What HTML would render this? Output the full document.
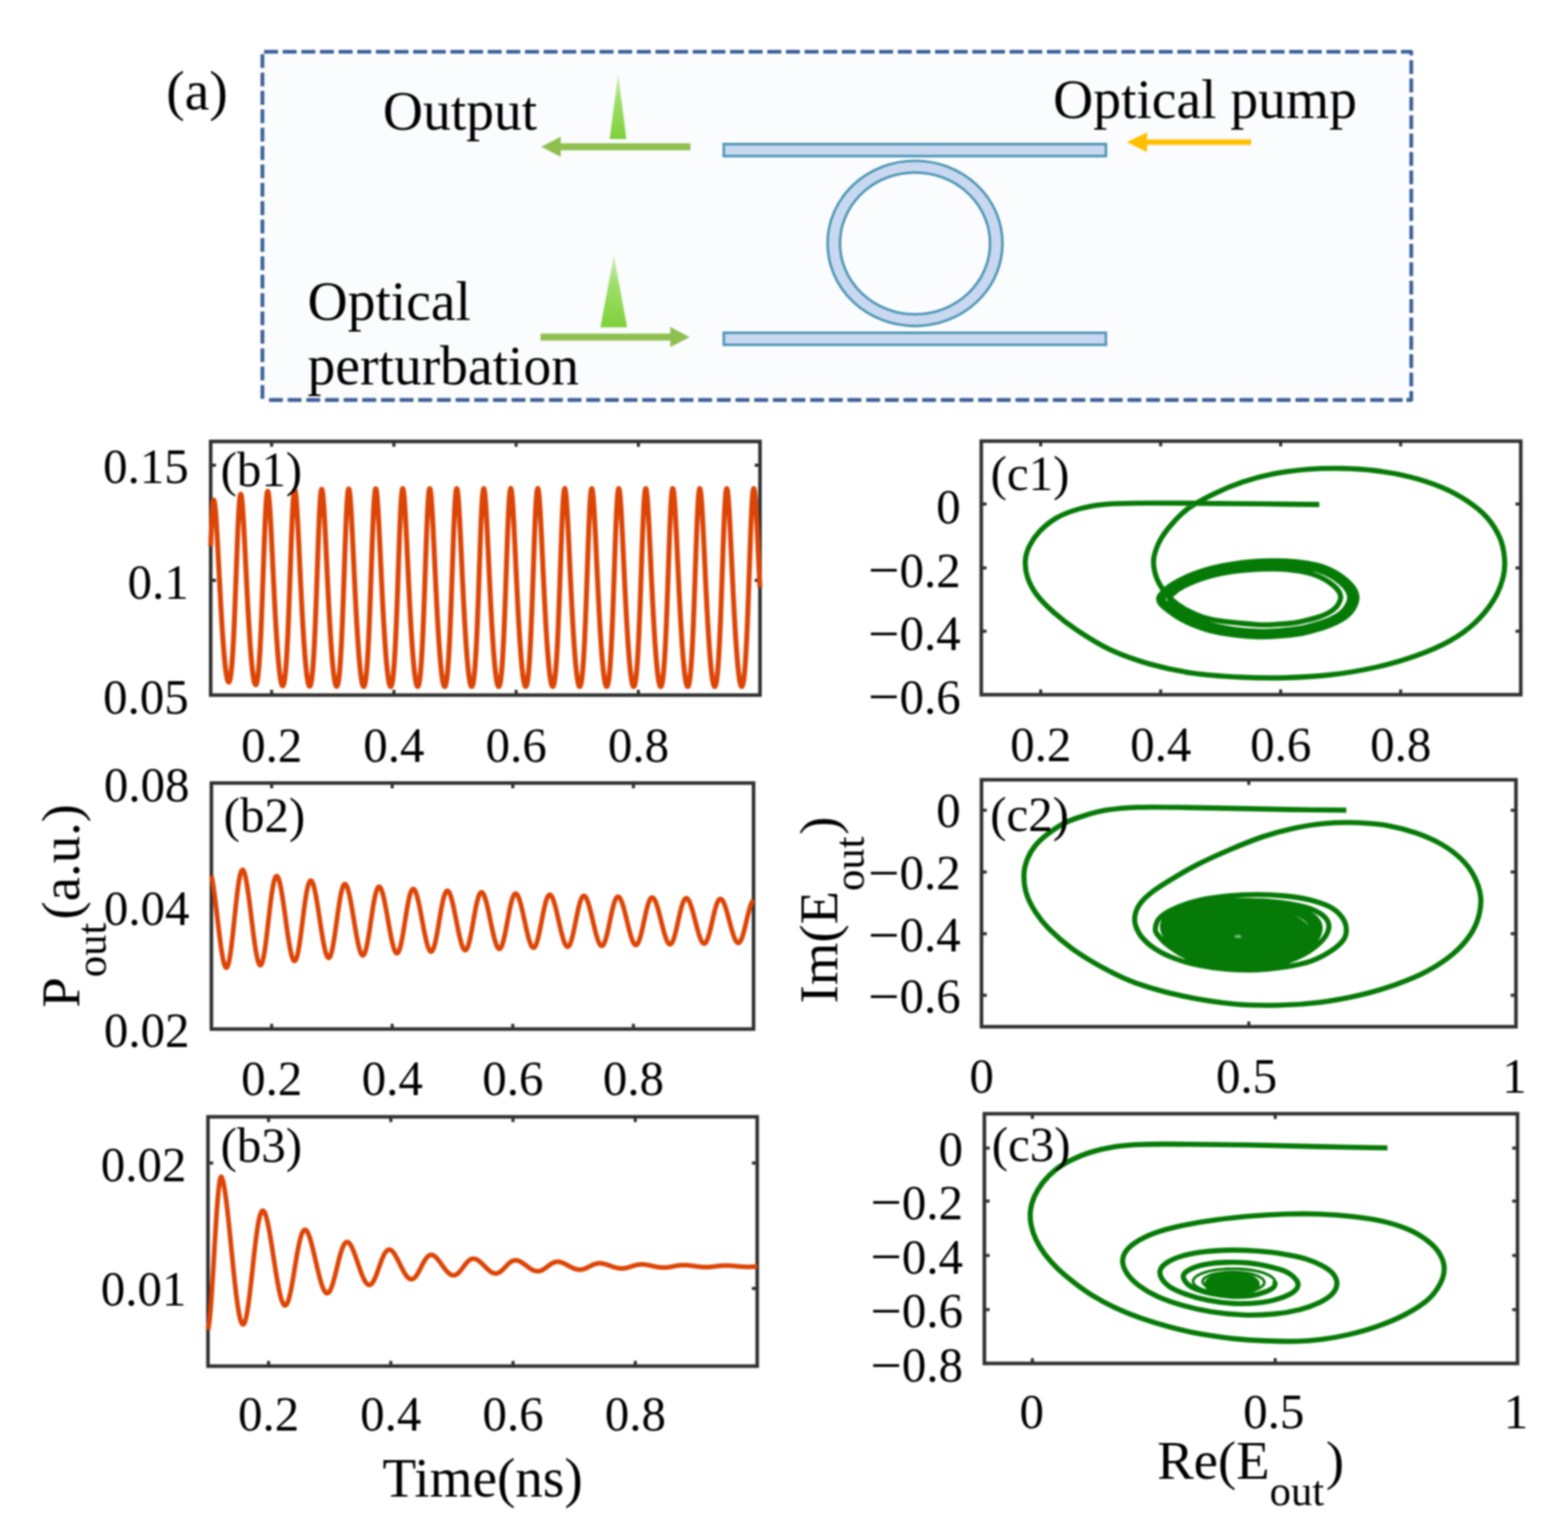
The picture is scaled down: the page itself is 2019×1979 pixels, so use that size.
<!DOCTYPE html>
<html lang="en"><head><meta charset="utf-8"><title>Figure</title>
<style>
html,body{margin:0;padding:0;background:#fff;}
body{width:2019px;height:1979px;overflow:hidden;}
svg{display:block;position:absolute;left:0;top:0;filter:blur(1px);}
text{font-family:"Liberation Serif", "DejaVu Serif", serif;fill:#000;}
</style></head><body>
<svg xmlns="http://www.w3.org/2000/svg" width="2019" height="1979" viewBox="0 0 2019 1979">
<defs><linearGradient id="gp" x1="0" y1="0" x2="0" y2="1"><stop offset="0" stop-color="#d2efbb"/><stop offset="0.4" stop-color="#a0de6a"/><stop offset="1" stop-color="#7fd13b"/></linearGradient></defs>
<rect x="337.9" y="66.7" width="1479.3" height="448.3" fill="#fbfcfe"/>
<path d="M340.0 66.7H358.0M364.0 66.7H382.0M388.0 66.7H406.0M412.0 66.7H430.0M436.0 66.7H454.0M460.0 66.7H478.0M484.0 66.7H502.0M508.0 66.7H526.0M532.0 66.7H550.0M556.0 66.7H574.0M580.0 66.7H598.0M604.0 66.7H622.0M628.0 66.7H646.0M652.0 66.7H670.0M676.0 66.7H694.0M700.0 66.7H718.0M724.0 66.7H742.0M748.0 66.7H766.0M772.0 66.7H790.0M796.0 66.7H814.0M820.0 66.7H838.0M844.0 66.7H862.0M868.0 66.7H886.0M892.0 66.7H910.0M916.0 66.7H934.0M940.0 66.7H958.0M964.0 66.7H982.0M988.0 66.7H1006.0M1012.0 66.7H1030.0M1036.0 66.7H1054.0M1060.0 66.7H1078.0M1084.0 66.7H1102.0M1108.0 66.7H1126.0M1132.0 66.7H1150.0M1156.0 66.7H1174.0M1180.0 66.7H1198.0M1204.0 66.7H1222.0M1228.0 66.7H1246.0M1252.0 66.7H1270.0M1276.0 66.7H1294.0M1300.0 66.7H1318.0M1324.0 66.7H1342.0M1348.0 66.7H1366.0M1372.0 66.7H1390.0M1396.0 66.7H1414.0M1420.0 66.7H1438.0M1444.0 66.7H1462.0M1468.0 66.7H1486.0M1492.0 66.7H1510.0M1516.0 66.7H1534.0M1540.0 66.7H1558.0M1564.0 66.7H1582.0M1588.0 66.7H1606.0M1612.0 66.7H1630.0M1636.0 66.7H1654.0M1660.0 66.7H1678.0M1684.0 66.7H1702.0M1708.0 66.7H1726.0M1732.0 66.7H1750.0M1756.0 66.7H1774.0M1780.0 66.7H1798.0M1804.0 66.7H1817.2V71.3M1817.2 77.4V95.2M1817.2 101.1V118.9M1817.2 124.7V142.5M1817.2 148.4V166.2M1817.2 172.1V189.9M1817.2 195.8V213.6M1817.2 219.4V237.2M1817.2 243.1V260.9M1817.2 266.8V284.6M1817.2 290.4V308.2M1817.2 314.1V331.9M1817.2 337.8V355.6M1817.2 361.4V379.2M1817.2 385.1V402.9M1817.2 408.8V426.6M1817.2 432.5V450.2M1817.2 456.1V473.9M1817.2 479.8V497.6M1817.2 503.5V515.0H1811.0M346.4 515.0H364.2M370.4 515.0H388.2M394.5 515.0H412.3M418.5 515.0H436.3M442.5 515.0H460.3M466.5 515.0H484.4M490.6 515.0H508.4M514.6 515.0H532.4M538.6 515.0H556.4M562.7 515.0H580.5M586.7 515.0H604.5M610.7 515.0H628.5M634.8 515.0H652.6M658.8 515.0H676.6M682.8 515.0H700.6M706.9 515.0H724.7M730.9 515.0H748.7M754.9 515.0H772.7M778.9 515.0H796.7M803.0 515.0H820.8M827.0 515.0H844.8M851.0 515.0H868.8M875.1 515.0H892.9M899.1 515.0H916.9M923.1 515.0H940.9M947.1 515.0H965.0M971.2 515.0H989.0M995.2 515.0H1013.0M1019.2 515.0H1037.0M1043.3 515.0H1061.1M1067.3 515.0H1085.1M1091.3 515.0H1109.1M1115.4 515.0H1133.2M1139.4 515.0H1157.2M1163.4 515.0H1181.2M1187.5 515.0H1205.2M1211.5 515.0H1229.3M1235.5 515.0H1253.3M1259.5 515.0H1277.3M1283.6 515.0H1301.4M1307.6 515.0H1325.4M1331.6 515.0H1349.4M1355.7 515.0H1373.5M1379.7 515.0H1397.5M1403.7 515.0H1421.5M1427.8 515.0H1445.6M1451.8 515.0H1469.6M1475.8 515.0H1493.6M1499.8 515.0H1517.6M1523.9 515.0H1541.7M1547.9 515.0H1565.7M1571.9 515.0H1589.7M1596.0 515.0H1613.8M1620.0 515.0H1637.8M1644.0 515.0H1661.8M1668.1 515.0H1685.9M1692.1 515.0H1709.9M1716.1 515.0H1733.9M1740.1 515.0H1757.9M1764.2 515.0H1782.0M1788.2 515.0H1806.0M337.9 69.8V87.6M337.9 93.5V111.3M337.9 117.1V134.9M337.9 140.8V158.6M337.9 164.4V182.2M337.9 188.1V205.9M337.9 211.8V229.6M337.9 235.4V253.2M337.9 259.1V276.9M337.9 282.7V300.5M337.9 306.4V324.2M337.9 330.1V347.9M337.9 353.7V371.5M337.9 377.4V395.2M337.9 401.0V418.8M337.9 424.7V442.5M337.9 448.4V466.2M337.9 472.0V489.8M337.9 495.7V513.5" fill="none" stroke="#3b5f96" stroke-width="4.8" stroke-linejoin="round"/>
<text x="214.0" y="140.5" font-size="71.5" text-anchor="start">(a)</text>
<text x="493.0" y="166.5" font-size="71.5" text-anchor="start">Output</text>
<text x="396.0" y="411.5" font-size="71.5" text-anchor="start">Optical</text>
<text x="396.0" y="494.5" font-size="71.5" text-anchor="start">perturbation</text>
<text x="1356.0" y="151.5" font-size="71.5" text-anchor="start">Optical pump</text>
<path d="M796 95 L806.5 179 L785 179 Z" fill="url(#gp)"/>
<path d="M790.5 329 L807.5 421.5 L773 421.5 Z" fill="url(#gp)"/>
<path d="M889 184.5 H722 V176 L697 189 L722 202 V193.5 H889 Z" fill="#8fbf4f"/>
<path d="M696 429.5 H863 V421 L888 434 L863 447 V438.5 H696 Z" fill="#8fbf4f"/>
<path d="M1611 179.5 H1477 V170.5 L1451 183 L1477 196 V186.5 H1611 Z" fill="#ffbf00"/>
<rect x="932" y="185.5" width="492" height="15.5" fill="#c8d8f0" stroke="#4a94b3" stroke-width="3.2"/>
<rect x="932" y="428.5" width="492" height="15.5" fill="#c8d8f0" stroke="#4a94b3" stroke-width="3.2"/>
<ellipse cx="1178.2" cy="313.4" rx="112.6" ry="106.4" fill="#c8d8f0" stroke="#4a94b3" stroke-width="3.2"/>
<ellipse cx="1178.2" cy="313.4" rx="96.6" ry="91.2" fill="#fbfcfe" stroke="#4a94b3" stroke-width="3.2"/>
<rect x="271.3" y="568.4" width="707.3" height="326.6" fill="#fff" stroke="#303030" stroke-width="4.6"/>
<path d="M349.8 895.0 v-6.8 M349.8 568.4 v6.8M507.2 895.0 v-6.8 M507.2 568.4 v6.8M664.6 895.0 v-6.8 M664.6 568.4 v6.8M822.0 895.0 v-6.8 M822.0 568.4 v6.8M271.3 599.0 h6.8 M978.6 599.0 h-6.8M271.3 747.3 h6.8 M978.6 747.3 h-6.8" stroke="#303030" stroke-width="4" fill="none"/>
<path d="M271.3 703.3L271.7 691.8L272.1 681.6L272.5 672.7L272.9 664.9L273.3 658.4L273.7 653.1L274.1 649.0L274.5 646.1L274.9 644.4L275.3 644.0L275.7 644.6L276.1 646.2L276.5 648.7L276.9 652.0L277.3 656.1L277.7 660.8L278.1 666.2L278.5 672.1L278.9 678.5L279.3 685.2L279.7 692.2L280.1 699.5L280.5 707.0L280.9 714.6L281.3 722.2L281.7 729.9L282.1 737.5L282.5 745.1L282.9 752.6L283.3 760.2L283.7 767.7L284.1 775.1L284.5 782.3L284.9 789.4L285.3 796.2L285.7 802.7L286.1 809.1L286.5 815.2L286.9 821.0L287.3 826.6L287.7 832.0L288.1 837.0L288.5 841.8L288.9 846.4L289.3 850.6L289.7 854.5L290.1 858.2L290.5 861.6L290.9 864.7L291.3 867.5L291.7 869.9L292.1 872.1L292.5 874.0L292.9 875.5L293.3 876.7L293.7 877.6L294.1 878.1L294.5 878.3L294.9 878.1L295.3 877.5L295.7 876.5L296.1 875.1L296.5 873.3L296.9 871.0L297.3 868.2L297.7 864.9L298.1 861.2L298.5 856.9L298.9 852.0L299.3 846.5L299.7 840.5L300.1 833.9L300.5 826.6L300.9 818.8L301.3 810.4L301.7 801.4L302.1 791.8L302.5 781.8L302.9 771.4L303.3 760.6L303.7 749.8L304.1 738.9L304.5 728.0L304.9 717.2L305.3 706.6L305.7 696.3L306.1 686.5L306.5 677.3L306.9 668.8L307.3 661.1L307.7 654.4L308.1 648.7L308.5 644.0L308.9 640.4L309.3 637.9L309.7 636.6L310.1 636.3L310.5 637.1L310.9 638.9L311.3 641.7L311.7 645.4L312.1 649.9L312.5 655.0L312.9 660.9L313.3 667.2L313.7 674.1L314.1 681.3L314.5 688.8L314.9 696.6L315.3 704.6L315.7 712.6L316.1 720.8L316.5 728.9L316.9 737.0L317.3 745.0L317.7 753.0L318.1 760.9L318.5 768.7L318.9 776.4L319.3 783.9L319.7 791.1L320.1 798.1L320.5 804.9L320.9 811.4L321.3 817.7L321.7 823.7L322.1 829.5L322.5 834.9L322.9 840.1L323.3 845.0L323.7 849.6L324.1 854.0L324.5 858.0L324.9 861.7L325.3 865.1L325.7 868.3L326.1 871.1L326.5 873.6L326.9 875.7L327.3 877.6L327.7 879.1L328.1 880.3L328.5 881.1L328.9 881.6L329.3 881.7L329.7 881.4L330.1 880.7L330.5 879.7L330.9 878.2L331.3 876.2L331.7 873.8L332.1 870.9L332.5 867.5L332.9 863.5L333.3 859.0L333.7 854.0L334.1 848.3L334.5 842.1L334.9 835.2L335.3 827.7L335.7 819.6L336.1 811.0L336.5 801.7L336.9 791.9L337.3 781.6L337.7 770.9L338.1 759.9L338.5 748.7L338.9 737.4L339.3 726.2L339.7 715.0L340.1 704.1L340.5 693.5L340.9 683.4L341.3 674.0L341.7 665.3L342.1 657.4L342.5 650.6L342.9 644.8L343.3 640.0L343.7 636.4L344.1 634.0L344.5 632.7L344.9 632.6L345.3 633.6L345.7 635.5L346.1 638.5L346.5 642.4L346.9 647.1L347.3 652.5L347.7 658.6L348.1 665.2L348.5 672.3L348.9 679.7L349.3 687.5L349.7 695.6L350.1 703.8L350.5 712.1L350.9 720.4L351.3 728.8L351.7 737.1L352.1 745.4L352.5 753.5L352.9 761.6L353.3 769.5L353.7 777.3L354.1 784.8L354.5 792.1L354.9 799.2L355.3 806.1L355.7 812.7L356.1 819.0L356.5 825.1L356.9 830.9L357.3 836.4L357.7 841.6L358.1 846.5L358.5 851.2L358.9 855.5L359.3 859.5L359.7 863.3L360.1 866.7L360.5 869.8L360.9 872.6L361.3 875.1L361.7 877.3L362.1 879.1L362.5 880.6L362.9 881.8L363.3 882.6L363.7 883.0L364.1 883.1L364.5 882.7L364.9 882.0L365.3 880.9L365.7 879.3L366.1 877.3L366.5 874.8L366.9 871.8L367.3 868.3L367.7 864.3L368.1 859.7L368.5 854.5L368.9 848.8L369.3 842.4L369.7 835.4L370.1 827.8L370.5 819.6L370.9 810.8L371.3 801.4L371.7 791.4L372.1 781.0L372.5 770.2L372.9 759.0L373.3 747.7L373.7 736.3L374.1 724.8L374.5 713.5L374.9 702.4L375.3 691.7L375.7 681.5L376.1 672.0L376.5 663.2L376.9 655.3L377.3 648.5L377.7 642.7L378.1 638.0L378.5 634.4L378.9 632.1L379.3 630.9L379.7 630.8L380.1 631.9L380.5 634.0L380.9 637.1L381.3 641.1L381.7 645.9L382.1 651.5L382.5 657.7L382.9 664.5L383.3 671.7L383.7 679.3L384.1 687.2L384.5 695.4L384.9 703.7L385.3 712.1L385.7 720.6L386.1 729.1L386.5 737.5L386.9 745.8L387.3 754.1L387.7 762.2L388.1 770.2L388.5 778.0L388.9 785.5L389.3 792.9L389.7 800.0L390.1 806.9L390.5 813.5L390.9 819.8L391.3 825.9L391.7 831.7L392.1 837.2L392.5 842.4L392.9 847.3L393.3 852.0L393.7 856.3L394.1 860.3L394.5 864.1L394.9 867.5L395.3 870.6L395.7 873.4L396.1 875.9L396.5 878.0L396.9 879.8L397.3 881.3L397.7 882.4L398.1 883.2L398.5 883.6L398.9 883.6L399.3 883.2L399.7 882.5L400.1 881.3L400.5 879.7L400.9 877.6L401.3 875.1L401.7 872.0L402.1 868.5L402.5 864.4L402.9 859.7L403.3 854.5L403.7 848.6L404.1 842.2L404.5 835.1L404.9 827.5L405.3 819.2L405.7 810.3L406.1 800.8L406.5 790.8L406.9 780.3L407.3 769.4L407.7 758.2L408.1 746.8L408.5 735.2L408.9 723.7L409.3 712.3L409.7 701.1L410.1 690.4L410.5 680.2L410.9 670.6L411.3 661.9L411.7 654.0L412.1 647.2L412.5 641.4L412.9 636.8L413.3 633.3L413.7 631.1L414.1 629.9L414.5 630.0L414.9 631.2L415.3 633.4L415.7 636.6L416.1 640.7L416.5 645.6L416.9 651.2L417.3 657.5L417.7 664.4L418.1 671.7L418.5 679.4L418.9 687.4L419.3 695.6L419.7 704.0L420.1 712.5L420.5 721.0L420.9 729.5L421.3 738.0L421.7 746.4L422.1 754.7L422.5 762.8L422.9 770.8L423.3 778.6L423.7 786.2L424.1 793.5L424.5 800.6L424.9 807.5L425.3 814.1L425.7 820.4L426.1 826.5L426.5 832.3L426.9 837.8L427.3 843.0L427.7 847.9L428.1 852.5L428.5 856.8L428.9 860.8L429.3 864.6L429.7 868.0L430.1 871.0L430.5 873.8L430.9 876.3L431.3 878.4L431.7 880.2L432.1 881.6L432.5 882.7L432.9 883.4L433.3 883.8L433.7 883.8L434.1 883.4L434.5 882.6L434.9 881.4L435.3 879.7L435.7 877.6L436.1 875.0L436.5 872.0L436.9 868.4L437.3 864.2L437.7 859.5L438.1 854.2L438.5 848.3L438.9 841.8L439.3 834.7L439.7 827.0L440.1 818.6L440.5 809.7L440.9 800.1L441.3 790.1L441.7 779.5L442.1 768.6L442.5 757.3L442.9 745.9L443.3 734.3L443.7 722.7L444.1 711.3L444.5 700.1L444.9 689.4L445.3 679.2L445.7 669.6L446.1 660.9L446.5 653.1L446.9 646.3L447.3 640.6L447.7 636.1L448.1 632.7L448.5 630.5L448.9 629.5L449.3 629.6L449.7 630.9L450.1 633.2L450.5 636.4L450.9 640.6L451.3 645.6L451.7 651.4L452.1 657.7L452.5 664.6L452.9 672.0L453.3 679.7L453.7 687.8L454.1 696.1L454.5 704.5L454.9 713.0L455.3 721.5L455.7 730.1L456.1 738.6L456.5 747.0L456.9 755.3L457.3 763.4L457.7 771.4L458.1 779.2L458.5 786.7L458.9 794.1L459.3 801.2L459.7 808.0L460.1 814.6L460.5 820.9L460.9 827.0L461.3 832.7L461.7 838.2L462.1 843.4L462.5 848.3L462.9 852.9L463.3 857.2L463.7 861.2L464.1 864.9L464.5 868.3L464.9 871.3L465.3 874.1L465.7 876.5L466.1 878.6L466.5 880.4L466.9 881.8L467.3 882.8L467.7 883.6L468.1 883.9L468.5 883.9L468.9 883.5L469.3 882.6L469.7 881.4L470.1 879.7L470.5 877.5L470.9 874.9L471.3 871.8L471.7 868.1L472.1 863.9L472.5 859.2L472.9 853.9L473.3 847.9L473.7 841.4L474.1 834.2L474.5 826.4L474.9 818.0L475.3 809.0L475.7 799.4L476.1 789.3L476.5 778.8L476.9 767.8L477.3 756.5L477.7 745.0L478.1 733.4L478.5 721.8L478.9 710.3L479.3 699.2L479.7 688.5L480.1 678.3L480.5 668.8L480.9 660.1L481.3 652.4L481.7 645.7L482.1 640.1L482.5 635.6L482.9 632.3L483.3 630.2L483.7 629.2L484.1 629.5L484.5 630.8L484.9 633.2L485.3 636.5L485.7 640.8L486.1 645.9L486.5 651.7L486.9 658.1L487.3 665.0L487.7 672.4L488.1 680.2L488.5 688.3L488.9 696.6L489.3 705.0L489.7 713.6L490.1 722.1L490.5 730.7L490.9 739.2L491.3 747.6L491.7 755.9L492.1 764.0L492.5 772.0L492.9 779.8L493.3 787.3L493.7 794.6L494.1 801.7L494.5 808.6L494.9 815.1L495.3 821.4L495.7 827.4L496.1 833.2L496.5 838.7L496.9 843.8L497.3 848.7L497.7 853.3L498.1 857.6L498.5 861.5L498.9 865.2L499.3 868.6L499.7 871.6L500.1 874.3L500.5 876.7L500.9 878.8L501.3 880.5L501.7 881.9L502.1 883.0L502.5 883.6L502.9 884.0L503.3 883.9L503.7 883.4L504.1 882.6L504.5 881.3L504.9 879.6L505.3 877.4L505.7 874.7L506.1 871.6L506.5 867.9L506.9 863.6L507.3 858.8L507.7 853.5L508.1 847.5L508.5 840.9L508.9 833.7L509.3 825.8L509.7 817.4L510.1 808.3L510.5 798.7L510.9 788.6L511.3 777.9L511.7 766.9L512.1 755.6L512.5 744.1L512.9 732.5L513.3 720.9L513.7 709.5L514.1 698.3L514.5 687.6L514.9 677.5L515.3 668.0L515.7 659.4L516.1 651.8L516.5 645.1L516.9 639.6L517.3 635.2L517.7 632.0L518.1 630.0L518.5 629.1L518.9 629.4L519.3 630.8L519.7 633.3L520.1 636.7L520.5 641.1L520.9 646.2L521.3 652.0L521.7 658.5L522.1 665.5L522.5 673.0L522.9 680.8L523.3 688.9L523.7 697.2L524.1 705.6L524.5 714.2L524.9 722.8L525.3 731.3L525.7 739.8L526.1 748.2L526.5 756.5L526.9 764.6L527.3 772.6L527.7 780.3L528.1 787.9L528.5 795.2L528.9 802.2L529.3 809.1L529.7 815.6L530.1 821.9L530.5 827.9L530.9 833.6L531.3 839.1L531.7 844.2L532.1 849.1L532.5 853.6L532.9 857.9L533.3 861.8L533.7 865.5L534.1 868.8L534.5 871.8L534.9 874.5L535.3 876.9L535.7 878.9L536.1 880.6L536.5 882.0L536.9 883.0L537.3 883.7L537.7 884.0L538.1 883.9L538.5 883.4L538.9 882.5L539.3 881.2L539.7 879.4L540.1 877.2L540.5 874.5L540.9 871.3L541.3 867.6L541.7 863.3L542.1 858.5L542.5 853.0L542.9 847.0L543.3 840.4L543.7 833.1L544.1 825.2L544.5 816.7L544.9 807.6L545.3 798.0L545.7 787.8L546.1 777.1L546.5 766.1L546.9 754.8L547.3 743.2L547.7 731.6L548.1 720.0L548.5 708.6L548.9 697.5L549.3 686.8L549.7 676.7L550.1 667.3L550.5 658.8L550.9 651.2L551.3 644.6L551.7 639.2L552.1 634.9L552.5 631.7L552.9 629.8L553.3 629.1L553.7 629.5L554.1 630.9L554.5 633.5L554.9 637.0L555.3 641.4L555.7 646.6L556.1 652.5L556.5 659.0L556.9 666.0L557.3 673.5L557.7 681.3L558.1 689.5L558.5 697.8L558.9 706.3L559.3 714.8L559.7 723.4L560.1 732.0L560.5 740.5L560.9 748.9L561.3 757.1L561.7 765.2L562.1 773.2L562.5 780.9L562.9 788.4L563.3 795.7L563.7 802.8L564.1 809.6L564.5 816.1L564.9 822.4L565.3 828.3L565.7 834.0L566.1 839.5L566.5 844.6L566.9 849.4L567.3 854.0L567.7 858.2L568.1 862.1L568.5 865.7L568.9 869.1L569.3 872.0L569.7 874.7L570.1 877.1L570.5 879.1L570.9 880.8L571.3 882.1L571.7 883.1L572.1 883.7L572.5 884.0L572.9 883.9L573.3 883.4L573.7 882.4L574.1 881.1L574.5 879.3L574.9 877.0L575.3 874.3L575.7 871.0L576.1 867.3L576.5 863.0L576.9 858.1L577.3 852.6L577.7 846.5L578.1 839.8L578.5 832.5L578.9 824.6L579.3 816.0L579.7 806.9L580.1 797.2L580.5 787.0L580.9 776.3L581.3 765.3L581.7 753.9L582.1 742.4L582.5 730.7L582.9 719.1L583.3 707.7L583.7 696.6L584.1 686.0L584.5 676.0L584.9 666.6L585.3 658.2L585.7 650.7L586.1 644.2L586.5 638.8L586.9 634.6L587.3 631.5L587.7 629.7L588.1 629.0L588.5 629.5L588.9 631.1L589.3 633.7L589.7 637.3L590.1 641.7L590.5 647.0L590.9 652.9L591.3 659.5L591.7 666.5L592.1 674.1L592.5 681.9L592.9 690.1L593.3 698.4L593.7 706.9L594.1 715.4L594.5 724.0L594.9 732.6L595.3 741.1L595.7 749.5L596.1 757.7L596.5 765.8L596.9 773.8L597.3 781.5L597.7 789.0L598.1 796.3L598.5 803.3L598.9 810.1L599.3 816.6L599.7 822.8L600.1 828.8L600.5 834.5L600.9 839.9L601.3 845.0L601.7 849.8L602.1 854.3L602.5 858.5L602.9 862.4L603.3 866.0L603.7 869.3L604.1 872.3L604.5 874.9L604.9 877.2L605.3 879.2L605.7 880.9L606.1 882.2L606.5 883.2L606.9 883.8L607.3 884.0L607.7 883.8L608.1 883.3L608.5 882.3L608.9 881.0L609.3 879.1L609.7 876.8L610.1 874.1L610.5 870.8L610.9 867.0L611.3 862.6L611.7 857.7L612.1 852.2L612.5 846.1L612.9 839.3L613.3 832.0L613.7 824.0L614.1 815.4L614.5 806.2L614.9 796.5L615.3 786.2L615.7 775.5L616.1 764.4L616.5 753.0L616.9 741.5L617.3 729.9L617.7 718.3L618.1 706.9L618.5 695.8L618.9 685.2L619.3 675.2L619.7 666.0L620.1 657.6L620.5 650.1L620.9 643.7L621.3 638.4L621.7 634.3L622.1 631.3L622.5 629.6L622.9 629.0L623.3 629.6L623.7 631.2L624.1 633.9L624.5 637.6L624.9 642.1L625.3 647.4L625.7 653.4L626.1 660.0L626.5 667.1L626.9 674.6L627.3 682.5L627.7 690.7L628.1 699.0L628.5 707.5L628.9 716.1L629.3 724.7L629.7 733.2L630.1 741.7L630.5 750.1L630.9 758.4L631.3 766.4L631.7 774.4L632.1 782.1L632.5 789.5L632.9 796.8L633.3 803.8L633.7 810.6L634.1 817.1L634.5 823.3L634.9 829.2L635.3 834.9L635.7 840.3L636.1 845.3L636.5 850.1L636.9 854.6L637.3 858.8L637.7 862.7L638.1 866.3L638.5 869.5L638.9 872.5L639.3 875.1L639.7 877.4L640.1 879.4L640.5 881.0L640.9 882.3L641.3 883.2L641.7 883.8L642.1 884.0L642.5 883.8L642.9 883.2L643.3 882.3L643.7 880.8L644.1 879.0L644.5 876.7L644.9 873.8L645.3 870.5L645.7 866.7L646.1 862.3L646.5 857.3L646.9 851.7L647.3 845.6L647.7 838.8L648.1 831.4L648.5 823.4L648.9 814.7L649.3 805.5L649.7 795.7L650.1 785.4L650.5 774.7L650.9 763.6L651.3 752.2L651.7 740.6L652.1 729.0L652.5 717.4L652.9 706.0L653.3 695.0L653.7 684.5L654.1 674.5L654.5 665.3L654.9 657.0L655.3 649.6L655.7 643.3L656.1 638.1L656.5 634.0L656.9 631.2L657.3 629.5L657.7 629.0L658.1 629.7L658.5 631.4L658.9 634.2L659.3 637.9L659.7 642.4L660.1 647.8L660.5 653.8L660.9 660.5L661.3 667.6L661.7 675.2L662.1 683.1L662.5 691.3L662.9 699.7L663.3 708.2L663.7 716.7L664.1 725.3L664.5 733.9L664.9 742.3L665.3 750.7L665.7 759.0L666.1 767.0L666.5 774.9L666.9 782.6L667.3 790.1L667.7 797.3L668.1 804.3L668.5 811.1L668.9 817.5L669.3 823.7L669.7 829.7L670.1 835.3L670.5 840.6L670.9 845.7L671.3 850.5L671.7 854.9L672.1 859.1L672.5 863.0L672.9 866.5L673.3 869.8L673.7 872.7L674.1 875.3L674.5 877.6L674.9 879.5L675.3 881.1L675.7 882.4L676.1 883.3L676.5 883.8L676.9 884.0L677.3 883.8L677.7 883.2L678.1 882.2L678.5 880.7L678.9 878.8L679.3 876.5L679.7 873.6L680.1 870.3L680.5 866.4L680.9 861.9L681.3 856.9L681.7 851.3L682.1 845.1L682.5 838.3L682.9 830.8L683.3 822.7L683.7 814.0L684.1 804.8L684.5 795.0L684.9 784.6L685.3 773.9L685.7 762.7L686.1 751.3L686.5 739.7L686.9 728.1L687.3 716.5L687.7 705.2L688.1 694.2L688.5 683.7L688.9 673.8L689.3 664.6L689.7 656.4L690.1 649.1L690.5 642.8L690.9 637.7L691.3 633.8L691.7 631.0L692.1 629.4L692.5 629.0L692.9 629.7L693.3 631.6L693.7 634.4L694.1 638.2L694.5 642.8L694.9 648.2L695.3 654.3L695.7 661.0L696.1 668.2L696.5 675.8L696.9 683.7L697.3 691.9L697.7 700.3L698.1 708.8L698.5 717.4L698.9 726.0L699.3 734.5L699.7 743.0L700.1 751.3L700.5 759.6L700.9 767.6L701.3 775.5L701.7 783.2L702.1 790.6L702.5 797.9L702.9 804.8L703.3 811.6L703.7 818.0L704.1 824.2L704.5 830.1L704.9 835.7L705.3 841.0L705.7 846.1L706.1 850.8L706.5 855.3L706.9 859.4L707.3 863.2L707.7 866.8L708.1 870.0L708.5 872.9L708.9 875.5L709.3 877.7L709.7 879.6L710.1 881.2L710.5 882.4L710.9 883.3L711.3 883.8L711.7 884.0L712.1 883.8L712.5 883.1L712.9 882.1L713.3 880.6L713.7 878.7L714.1 876.3L714.5 873.4L714.9 870.0L715.3 866.0L715.7 861.6L716.1 856.5L716.5 850.9L716.9 844.6L717.3 837.7L717.7 830.2L718.1 822.1L718.5 813.4L718.9 804.1L719.3 794.2L719.7 783.8L720.1 773.0L720.5 761.9L720.9 750.5L721.3 738.9L721.7 727.2L722.1 715.7L722.5 704.4L722.9 693.4L723.3 682.9L723.7 673.1L724.1 664.0L724.5 655.8L724.9 648.6L725.3 642.4L725.7 637.4L726.1 633.5L726.5 630.8L726.9 629.3L727.3 629.0L727.7 629.8L728.1 631.7L728.5 634.6L728.9 638.5L729.3 643.2L729.7 648.7L730.1 654.8L730.5 661.5L730.9 668.7L731.3 676.4L731.7 684.3L732.1 692.5L732.5 700.9L732.9 709.4L733.3 718.0L733.7 726.6L734.1 735.1L734.5 743.6L734.9 752.0L735.3 760.2L735.7 768.2L736.1 776.1L736.5 783.8L736.9 791.2L737.3 798.4L737.7 805.3L738.1 812.0L738.5 818.5L738.9 824.6L739.3 830.5L739.7 836.1L740.1 841.4L740.5 846.4L740.9 851.2L741.3 855.6L741.7 859.7L742.1 863.5L742.5 867.0L742.9 870.2L743.3 873.1L743.7 875.6L744.1 877.9L744.5 879.8L744.9 881.3L745.3 882.5L745.7 883.4L746.1 883.9L746.5 884.0L746.9 883.7L747.3 883.1L747.7 882.0L748.1 880.5L748.5 878.5L748.9 876.1L749.3 873.1L749.7 869.7L750.1 865.7L750.5 861.2L750.9 856.1L751.3 850.4L751.7 844.1L752.1 837.2L752.5 829.6L752.9 821.5L753.3 812.7L753.7 803.3L754.1 793.4L754.5 783.0L754.9 772.2L755.3 761.0L755.7 749.6L756.1 738.0L756.5 726.4L756.9 714.8L757.3 703.5L757.7 692.6L758.1 682.2L758.5 672.4L758.9 663.3L759.3 655.2L759.7 648.1L760.1 642.0L760.5 637.0L760.9 633.3L761.3 630.7L761.7 629.3L762.1 629.1L762.5 629.9L762.9 631.9L763.3 634.9L763.7 638.8L764.1 643.6L764.5 649.1L764.9 655.3L765.3 662.1L765.7 669.3L766.1 677.0L766.5 684.9L766.9 693.2L767.3 701.6L767.7 710.1L768.1 718.7L768.5 727.2L768.9 735.8L769.3 744.2L769.7 752.6L770.1 760.8L770.5 768.8L770.9 776.7L771.3 784.3L771.7 791.7L772.1 798.9L772.5 805.9L772.9 812.5L773.3 818.9L773.7 825.1L774.1 830.9L774.5 836.5L774.9 841.8L775.3 846.8L775.7 851.5L776.1 855.9L776.5 860.0L776.9 863.8L777.3 867.3L777.7 870.4L778.1 873.3L778.5 875.8L778.9 878.0L779.3 879.9L779.7 881.4L780.1 882.6L780.5 883.4L780.9 883.9L781.3 884.0L781.7 883.7L782.1 883.0L782.5 881.9L782.9 880.3L783.3 878.3L783.7 875.9L784.1 872.9L784.5 869.4L784.9 865.4L785.3 860.8L785.7 855.7L786.1 850.0L786.5 843.6L786.9 836.6L787.3 829.0L787.7 820.8L788.1 812.0L788.5 802.6L788.9 792.7L789.3 782.2L789.7 771.4L790.1 760.2L790.5 748.7L790.9 737.1L791.3 725.5L791.7 714.0L792.1 702.7L792.5 691.8L792.9 681.4L793.3 671.7L793.7 662.7L794.1 654.6L794.5 647.6L794.9 641.6L795.3 636.7L795.7 633.0L796.1 630.5L796.5 629.2L796.9 629.1L797.3 630.1L797.7 632.1L798.1 635.2L798.5 639.1L798.9 644.0L799.3 649.5L799.7 655.8L800.1 662.6L800.5 669.9L800.9 677.6L801.3 685.6L801.7 693.8L802.1 702.2L802.5 710.7L802.9 719.3L803.3 727.9L803.7 736.4L804.1 744.9L804.5 753.2L804.9 761.4L805.3 769.4L805.7 777.3L806.1 784.9L806.5 792.3L806.9 799.5L807.3 806.4L807.7 813.0L808.1 819.4L808.5 825.5L808.9 831.4L809.3 836.9L809.7 842.2L810.1 847.2L810.5 851.8L810.9 856.2L811.3 860.3L811.7 864.1L812.1 867.5L812.5 870.7L812.9 873.5L813.3 876.0L813.7 878.2L814.1 880.0L814.5 881.5L814.9 882.7L815.3 883.5L815.7 883.9L816.1 884.0L816.5 883.7L816.9 882.9L817.3 881.8L817.7 880.2L818.1 878.2L818.5 875.7L818.9 872.7L819.3 869.1L819.7 865.1L820.1 860.5L820.5 855.3L820.9 849.5L821.3 843.1L821.7 836.1L822.1 828.4L822.5 820.2L822.9 811.3L823.3 801.9L823.7 791.9L824.1 781.4L824.5 770.6L824.9 759.3L825.3 747.9L825.7 736.3L826.1 724.6L826.5 713.1L826.9 701.9L827.3 691.0L827.7 680.6L828.1 671.0L828.5 662.1L828.9 654.1L829.3 647.1L829.7 641.2L830.1 636.4L830.5 632.8L830.9 630.4L831.3 629.2L831.7 629.1L832.1 630.2L832.5 632.3L832.9 635.4L833.3 639.5L833.7 644.4L834.1 650.0L834.5 656.3L834.9 663.1L835.3 670.4L835.7 678.1L836.1 686.2L836.5 694.4L836.9 702.8L837.3 711.4L837.7 719.9L838.1 728.5L838.5 737.1L838.9 745.5L839.3 753.8L839.7 762.0L840.1 770.0L840.5 777.8L840.9 785.5L841.3 792.8L841.7 800.0L842.1 806.9L842.5 813.5L842.9 819.9L843.3 826.0L843.7 831.8L844.1 837.3L844.5 842.6L844.9 847.5L845.3 852.2L845.7 856.5L846.1 860.6L846.5 864.3L846.9 867.8L847.3 870.9L847.7 873.7L848.1 876.2L848.5 878.3L848.9 880.1L849.3 881.6L849.7 882.7L850.1 883.5L850.5 883.9L850.9 884.0L851.3 883.6L851.7 882.9L852.1 881.7L852.5 880.1L852.9 878.0L853.3 875.5L853.7 872.4L854.1 868.9L854.5 864.8L854.9 860.1L855.3 854.9L855.7 849.0L856.1 842.6L856.5 835.5L856.9 827.8L857.3 819.5L857.7 810.6L858.1 801.2L858.5 791.1L858.9 780.6L859.3 769.7L859.7 758.5L860.1 747.0L860.5 735.4L860.9 723.8L861.3 712.3L861.7 701.0L862.1 690.2L862.5 679.9L862.9 670.3L863.3 661.4L863.7 653.5L864.1 646.6L864.5 640.8L864.9 636.1L865.3 632.6L865.7 630.3L866.1 629.1L866.5 629.2L866.9 630.3L867.3 632.5L867.7 635.7L868.1 639.8L868.5 644.8L868.9 650.4L869.3 656.8L869.7 663.6L870.1 671.0L870.5 678.7L870.9 686.8L871.3 695.0L871.7 703.5L872.1 712.0L872.5 720.6L872.9 729.2L873.3 737.7L873.7 746.1L874.1 754.5L874.5 762.6L874.9 770.6L875.3 778.4L875.7 786.0L876.1 793.4L876.5 800.5L876.9 807.4L877.3 814.0L877.7 820.4L878.1 826.4L878.5 832.2L878.9 837.7L879.3 843.0L879.7 847.9L880.1 852.5L880.5 856.9L880.9 860.9L881.3 864.6L881.7 868.0L882.1 871.1L882.5 873.9L882.9 876.3L883.3 878.5L883.7 880.3L884.1 881.7L884.5 882.8L884.9 883.6L885.3 883.9L885.7 884.0L886.1 883.6L886.5 882.8L886.9 881.6L887.3 879.9L887.7 877.8L888.1 875.2L888.5 872.2L888.9 868.6L889.3 864.4L889.7 859.7L890.1 854.5L890.5 848.6L890.9 842.1L891.3 835.0L891.7 827.2L892.1 818.9L892.5 809.9L892.9 800.4L893.3 790.4L893.7 779.8L894.1 768.9L894.5 757.6L894.9 746.1L895.3 734.5L895.7 722.9L896.1 711.4L896.5 700.2L896.9 689.4L897.3 679.1L897.7 669.6L898.1 660.8L898.5 653.0L898.9 646.1L899.3 640.4L899.7 635.8L900.1 632.4L900.5 630.1L900.9 629.1L901.3 629.2L901.7 630.4L902.1 632.7L902.5 636.0L902.9 640.2L903.3 645.2L903.7 650.9L904.1 657.3L904.5 664.2L904.9 671.6L905.3 679.3L905.7 687.4L906.1 695.7L906.5 704.1L906.9 712.7L907.3 721.2L907.7 729.8L908.1 738.3L908.5 746.8L908.9 755.1L909.3 763.2L909.7 771.2L910.1 779.0L910.5 786.6L910.9 793.9L911.3 801.0L911.7 807.9L912.1 814.5L912.5 820.8L912.9 826.9L913.3 832.6L913.7 838.1L914.1 843.3L914.5 848.2L914.9 852.9L915.3 857.2L915.7 861.2L916.1 864.9L916.5 868.3L916.9 871.3L917.3 874.1L917.7 876.5L918.1 878.6L918.5 880.4L918.9 881.8L919.3 882.9L919.7 883.6L920.1 884.0L920.5 883.9L920.9 883.5L921.3 882.7L921.7 881.5L922.1 879.8L922.5 877.6L922.9 875.0L923.3 871.9L923.7 868.3L924.1 864.1L924.5 859.4L924.9 854.0L925.3 848.1L925.7 841.6L926.1 834.4L926.5 826.6L926.9 818.2L927.3 809.2L927.7 799.7L928.1 789.6L928.5 779.0L928.9 768.1L929.3 756.8L929.7 745.3L930.1 733.6L930.5 722.0L930.9 710.6L931.3 699.4L931.7 688.6L932.1 678.4L932.5 668.9L932.9 660.2L933.3 652.4L933.7 645.7L934.1 640.0L934.5 635.5L934.9 632.2L935.3 630.0L935.7 629.1L936.1 629.3L936.5 630.6L936.9 632.9L937.3 636.3L937.7 640.5L938.1 645.6L938.5 651.3L938.9 657.8L939.3 664.7L939.7 672.1L940.1 679.9L940.5 688.0L940.9 696.3L941.3 704.8L941.7 713.3L942.1 721.9L942.5 730.4L942.9 739.0L943.3 747.4L943.7 755.7L944.1 763.8L944.5 771.8L944.9 779.6L945.3 787.1L945.7 794.5L946.1 801.6L946.5 808.4L946.9 815.0L947.3 821.3L947.7 827.3L948.1 833.1L948.5 838.5L948.9 843.7L949.3 848.6L949.7 853.2L950.1 857.5L950.5 861.5L950.9 865.1L951.3 868.5L951.7 871.5L952.1 874.3L952.5 876.7L952.9 878.8L953.3 880.5L953.7 881.9L954.1 883.0L954.5 883.6L954.9 884.0L955.3 883.9L955.7 883.5L956.1 882.6L956.5 881.4L956.9 879.6L957.3 877.5L957.7 874.8L958.1 871.7L958.5 868.0L958.9 863.8L959.3 859.0L959.7 853.6L960.1 847.6L960.5 841.1L960.9 833.9L961.3 826.0L961.7 817.6L962.1 808.6L962.5 798.9L962.9 788.8L963.3 778.2L963.7 767.2L964.1 755.9L964.5 744.4L964.9 732.8L965.3 721.2L965.7 709.7L966.1 698.5L966.5 687.8L966.9 677.7L967.3 668.2L967.7 659.6L968.1 651.9L968.5 645.2L968.9 639.6L969.3 635.2L969.7 632.0L970.1 629.9L970.5 629.0L970.9 629.3L971.3 630.7L971.7 633.1L972.1 636.6L972.5 640.9L972.9 646.0L973.3 651.8L973.7 658.3L974.1 665.3L974.5 672.7L974.9 680.5L975.3 688.6L975.7 696.9L976.1 705.4L976.5 713.9L976.9 722.5L977.3 731.1L977.7 739.6L978.1 748.0L978.5 756.3" fill="none" stroke="#dc4506" stroke-width="6.4" stroke-linejoin="round"/>
<text x="243.0" y="622.0" font-size="63.0" text-anchor="end">0.15</text>
<text x="243.0" y="771.0" font-size="63.0" text-anchor="end">0.1</text>
<text x="243.0" y="919.0" font-size="63.0" text-anchor="end">0.05</text>
<text x="349.8" y="980.5" font-size="63.0" text-anchor="middle">0.2</text>
<text x="507.2" y="980.5" font-size="63.0" text-anchor="middle">0.4</text>
<text x="664.6" y="980.5" font-size="63.0" text-anchor="middle">0.6</text>
<text x="822.0" y="980.5" font-size="63.0" text-anchor="middle">0.8</text>
<text x="284.0" y="626.0" font-size="63.0" text-anchor="start">(b1)</text>
<rect x="272.2" y="1008.2" width="698.1" height="316.8" fill="#fff" stroke="#303030" stroke-width="4.6"/>
<path d="M349.8 1325.0 v-6.8 M349.8 1008.2 v6.8M505.0 1325.0 v-6.8 M505.0 1008.2 v6.8M660.3 1325.0 v-6.8 M660.3 1008.2 v6.8M815.6 1325.0 v-6.8 M815.6 1008.2 v6.8" stroke="#303030" stroke-width="4" fill="none"/>
<path d="M272.2 1127.5L272.6 1129.3L273.0 1131.3L273.4 1133.5L273.8 1135.7L274.2 1138.1L274.6 1140.7L275.0 1143.3L275.4 1146.1L275.8 1148.9L276.2 1151.9L276.6 1154.9L277.0 1158.0L277.4 1161.2L277.8 1164.4L278.2 1167.7L278.6 1171.0L279.0 1174.3L279.4 1177.7L279.8 1181.0L280.2 1184.4L280.6 1187.8L281.0 1191.1L281.4 1194.5L281.8 1197.8L282.2 1201.1L282.6 1204.3L283.0 1207.5L283.4 1210.6L283.8 1213.6L284.2 1216.5L284.6 1219.4L285.0 1222.1L285.4 1224.8L285.8 1227.3L286.2 1229.7L286.6 1231.9L287.0 1234.1L287.4 1236.0L287.8 1237.9L288.2 1239.5L288.6 1241.0L289.0 1242.3L289.4 1243.4L289.8 1244.3L290.2 1245.1L290.6 1245.6L291.0 1245.9L291.4 1246.0L291.8 1245.9L292.2 1245.6L292.6 1245.1L293.0 1244.3L293.4 1243.4L293.8 1242.2L294.2 1240.8L294.6 1239.3L295.0 1237.5L295.4 1235.5L295.8 1233.3L296.2 1230.9L296.6 1228.4L297.0 1225.6L297.4 1222.7L297.8 1219.7L298.2 1216.5L298.6 1213.2L299.0 1209.8L299.4 1206.2L299.8 1202.6L300.2 1198.9L300.6 1195.2L301.0 1191.3L301.4 1187.5L301.8 1183.6L302.2 1179.8L302.6 1175.9L303.0 1172.1L303.4 1168.3L303.8 1164.6L304.2 1161.0L304.6 1157.4L305.0 1154.0L305.4 1150.6L305.8 1147.4L306.2 1144.3L306.6 1141.4L307.0 1138.6L307.4 1136.0L307.8 1133.6L308.2 1131.3L308.6 1129.3L309.0 1127.4L309.4 1125.7L309.8 1124.3L310.2 1123.0L310.6 1122.0L311.0 1121.2L311.4 1120.5L311.8 1120.1L312.2 1119.9L312.6 1120.0L313.0 1120.3L313.4 1120.8L313.8 1121.4L314.2 1122.3L314.6 1123.4L315.0 1124.6L315.4 1126.1L315.8 1127.7L316.2 1129.4L316.6 1131.3L317.0 1133.4L317.4 1135.5L317.8 1137.9L318.2 1140.3L318.6 1142.8L319.0 1145.5L319.4 1148.3L319.8 1151.1L320.2 1154.0L320.6 1157.0L321.0 1160.1L321.4 1163.2L321.8 1166.3L322.2 1169.5L322.6 1172.7L323.0 1176.0L323.4 1179.2L323.8 1182.5L324.2 1185.8L324.6 1189.0L325.0 1192.2L325.4 1195.4L325.8 1198.6L326.2 1201.7L326.6 1204.7L327.0 1207.7L327.4 1210.7L327.8 1213.5L328.2 1216.3L328.6 1218.9L329.0 1221.5L329.4 1223.9L329.8 1226.3L330.2 1228.5L330.6 1230.5L331.0 1232.5L331.4 1234.3L331.8 1235.9L332.2 1237.4L332.6 1238.7L333.0 1239.8L333.4 1240.8L333.8 1241.6L334.2 1242.1L334.6 1242.6L335.0 1242.8L335.4 1242.8L335.8 1242.6L336.2 1242.2L336.6 1241.6L337.0 1240.9L337.4 1239.9L337.8 1238.7L338.2 1237.3L338.6 1235.8L339.0 1234.1L339.4 1232.1L339.8 1230.0L340.2 1227.8L340.6 1225.4L341.0 1222.8L341.4 1220.1L341.8 1217.2L342.2 1214.2L342.6 1211.2L343.0 1208.0L343.4 1204.7L343.8 1201.4L344.2 1198.0L344.6 1194.5L345.0 1191.0L345.4 1187.5L345.8 1184.0L346.2 1180.5L346.6 1177.0L347.0 1173.6L347.4 1170.2L347.8 1166.8L348.2 1163.6L348.6 1160.4L349.0 1157.3L349.4 1154.3L349.8 1151.5L350.2 1148.8L350.6 1146.2L351.0 1143.8L351.4 1141.5L351.8 1139.4L352.2 1137.4L352.6 1135.6L353.0 1134.1L353.4 1132.6L353.8 1131.4L354.2 1130.4L354.6 1129.5L355.0 1128.9L355.4 1128.4L355.8 1128.1L356.2 1128.0L356.6 1128.1L357.0 1128.4L357.4 1128.8L357.8 1129.4L358.2 1130.2L358.6 1131.2L359.0 1132.3L359.4 1133.5L359.8 1134.9L360.2 1136.5L360.6 1138.2L361.0 1140.0L361.4 1141.9L361.8 1144.0L362.2 1146.2L362.6 1148.4L363.0 1150.8L363.4 1153.2L363.8 1155.8L364.2 1158.4L364.6 1161.0L365.0 1163.7L365.4 1166.5L365.8 1169.3L366.2 1172.1L366.6 1175.0L367.0 1177.9L367.4 1180.8L367.8 1183.7L368.2 1186.6L368.6 1189.5L369.0 1192.4L369.4 1195.2L369.8 1198.0L370.2 1200.8L370.6 1203.5L371.0 1206.2L371.4 1208.8L371.8 1211.3L372.2 1213.8L372.6 1216.1L373.0 1218.4L373.4 1220.6L373.8 1222.7L374.2 1224.7L374.6 1226.5L375.0 1228.2L375.4 1229.8L375.8 1231.3L376.2 1232.6L376.6 1233.7L377.0 1234.7L377.4 1235.6L377.8 1236.3L378.2 1236.8L378.6 1237.2L379.0 1237.3L379.4 1237.3L379.8 1237.2L380.2 1236.8L380.6 1236.3L381.0 1235.6L381.4 1234.7L381.8 1233.6L382.2 1232.4L382.6 1231.0L383.0 1229.4L383.4 1227.6L383.8 1225.8L384.2 1223.7L384.6 1221.5L385.0 1219.2L385.4 1216.7L385.8 1214.2L386.2 1211.5L386.6 1208.7L387.0 1205.8L387.4 1202.9L387.8 1199.9L388.2 1196.8L388.6 1193.7L389.0 1190.5L389.4 1187.4L389.8 1184.2L390.2 1181.0L390.6 1177.9L391.0 1174.8L391.4 1171.7L391.8 1168.7L392.2 1165.8L392.6 1162.9L393.0 1160.1L393.4 1157.5L393.8 1154.9L394.2 1152.5L394.6 1150.1L395.0 1147.9L395.4 1145.9L395.8 1144.0L396.2 1142.2L396.6 1140.7L397.0 1139.2L397.4 1138.0L397.8 1136.9L398.2 1135.9L398.6 1135.2L399.0 1134.6L399.4 1134.2L399.8 1133.9L400.2 1133.8L400.6 1133.9L401.0 1134.2L401.4 1134.6L401.8 1135.2L402.2 1135.9L402.6 1136.8L403.0 1137.8L403.4 1138.9L403.8 1140.2L404.2 1141.6L404.6 1143.2L405.0 1144.8L405.4 1146.6L405.8 1148.5L406.2 1150.4L406.6 1152.5L407.0 1154.6L407.4 1156.9L407.8 1159.2L408.2 1161.5L408.6 1163.9L409.0 1166.4L409.4 1168.9L409.8 1171.5L410.2 1174.1L410.6 1176.7L411.0 1179.3L411.4 1181.9L411.8 1184.6L412.2 1187.2L412.6 1189.9L413.0 1192.5L413.4 1195.1L413.8 1197.6L414.2 1200.1L414.6 1202.6L415.0 1205.0L415.4 1207.4L415.8 1209.7L416.2 1211.9L416.6 1214.1L417.0 1216.2L417.4 1218.2L417.8 1220.1L418.2 1221.8L418.6 1223.5L419.0 1225.1L419.4 1226.5L419.8 1227.8L420.2 1229.0L420.6 1230.1L421.0 1231.0L421.4 1231.7L421.8 1232.4L422.2 1232.8L422.6 1233.1L423.0 1233.3L423.4 1233.3L423.8 1233.1L424.2 1232.8L424.6 1232.3L425.0 1231.6L425.4 1230.8L425.8 1229.8L426.2 1228.6L426.6 1227.3L427.0 1225.9L427.4 1224.3L427.8 1222.5L428.2 1220.6L428.6 1218.6L429.0 1216.5L429.4 1214.2L429.8 1211.8L430.2 1209.4L430.6 1206.8L431.0 1204.2L431.4 1201.5L431.8 1198.7L432.2 1195.9L432.6 1193.0L433.0 1190.1L433.4 1187.2L433.8 1184.3L434.2 1181.4L434.6 1178.5L435.0 1175.7L435.4 1172.9L435.8 1170.1L436.2 1167.4L436.6 1164.8L437.0 1162.2L437.4 1159.8L437.8 1157.4L438.2 1155.2L438.6 1153.1L439.0 1151.1L439.4 1149.2L439.8 1147.5L440.2 1145.9L440.6 1144.4L441.0 1143.1L441.4 1142.0L441.8 1141.0L442.2 1140.1L442.6 1139.4L443.0 1138.9L443.4 1138.5L443.8 1138.3L444.2 1138.3L444.6 1138.4L445.0 1138.6L445.4 1139.0L445.8 1139.5L446.2 1140.2L446.6 1141.0L447.0 1142.0L447.4 1143.0L447.8 1144.2L448.2 1145.5L448.6 1147.0L449.0 1148.5L449.4 1150.1L449.8 1151.9L450.2 1153.7L450.6 1155.6L451.0 1157.6L451.4 1159.7L451.8 1161.8L452.2 1164.0L452.6 1166.2L453.0 1168.5L453.4 1170.8L453.8 1173.2L454.2 1175.6L454.6 1178.0L455.0 1180.4L455.4 1182.8L455.8 1185.3L456.2 1187.7L456.6 1190.1L457.0 1192.6L457.4 1194.9L457.8 1197.3L458.2 1199.6L458.6 1201.9L459.0 1204.2L459.4 1206.3L459.8 1208.5L460.2 1210.5L460.6 1212.5L461.0 1214.4L461.4 1216.3L461.8 1218.0L462.2 1219.6L462.6 1221.2L463.0 1222.6L463.4 1223.9L463.8 1225.2L464.2 1226.2L464.6 1227.2L465.0 1228.0L465.4 1228.7L465.8 1229.3L466.2 1229.7L466.6 1230.0L467.0 1230.1L467.4 1230.1L467.8 1229.9L468.2 1229.6L468.6 1229.1L469.0 1228.4L469.4 1227.7L469.8 1226.7L470.2 1225.6L470.6 1224.4L471.0 1223.1L471.4 1221.6L471.8 1219.9L472.2 1218.2L472.6 1216.3L473.0 1214.3L473.4 1212.2L473.8 1210.0L474.2 1207.7L474.6 1205.3L475.0 1202.8L475.4 1200.3L475.8 1197.7L476.2 1195.1L476.6 1192.4L477.0 1189.7L477.4 1187.0L477.8 1184.3L478.2 1181.6L478.6 1179.0L479.0 1176.3L479.4 1173.7L479.8 1171.1L480.2 1168.6L480.6 1166.2L481.0 1163.8L481.4 1161.6L481.8 1159.4L482.2 1157.3L482.6 1155.3L483.0 1153.5L483.4 1151.8L483.8 1150.2L484.2 1148.7L484.6 1147.4L485.0 1146.2L485.4 1145.1L485.8 1144.2L486.2 1143.4L486.6 1142.8L487.0 1142.3L487.4 1142.0L487.8 1141.8L488.2 1141.7L488.6 1141.8L489.0 1142.1L489.4 1142.5L489.8 1143.0L490.2 1143.6L490.6 1144.4L491.0 1145.3L491.4 1146.3L491.8 1147.4L492.2 1148.7L492.6 1150.0L493.0 1151.4L493.4 1153.0L493.8 1154.6L494.2 1156.3L494.6 1158.1L495.0 1159.9L495.4 1161.9L495.8 1163.9L496.2 1165.9L496.6 1168.0L497.0 1170.1L497.4 1172.3L497.8 1174.5L498.2 1176.7L498.6 1179.0L499.0 1181.3L499.4 1183.5L499.8 1185.8L500.2 1188.1L500.6 1190.4L501.0 1192.6L501.4 1194.8L501.8 1197.0L502.2 1199.2L502.6 1201.3L503.0 1203.4L503.4 1205.5L503.8 1207.4L504.2 1209.4L504.6 1211.2L505.0 1213.0L505.4 1214.7L505.8 1216.3L506.2 1217.8L506.6 1219.3L507.0 1220.6L507.4 1221.8L507.8 1223.0L508.2 1224.0L508.6 1224.9L509.0 1225.6L509.4 1226.3L509.8 1226.8L510.2 1227.1L510.6 1227.4L511.0 1227.5L511.4 1227.4L511.8 1227.2L512.2 1226.9L512.6 1226.5L513.0 1225.9L513.4 1225.1L513.8 1224.2L514.2 1223.2L514.6 1222.0L515.0 1220.7L515.4 1219.3L515.8 1217.8L516.2 1216.1L516.6 1214.3L517.0 1212.4L517.4 1210.5L517.8 1208.4L518.2 1206.2L518.6 1204.0L519.0 1201.6L519.4 1199.3L519.8 1196.8L520.2 1194.4L520.6 1191.9L521.0 1189.4L521.4 1186.8L521.8 1184.3L522.2 1181.8L522.6 1179.2L523.0 1176.8L523.4 1174.3L523.8 1171.9L524.2 1169.6L524.6 1167.3L525.0 1165.1L525.4 1163.0L525.8 1160.9L526.2 1159.0L526.6 1157.2L527.0 1155.4L527.4 1153.8L527.8 1152.3L528.2 1151.0L528.6 1149.7L529.0 1148.6L529.4 1147.6L529.8 1146.8L530.2 1146.1L530.6 1145.5L531.0 1145.1L531.4 1144.8L531.8 1144.6L532.2 1144.6L532.6 1144.7L533.0 1144.9L533.4 1145.3L533.8 1145.8L534.2 1146.4L534.6 1147.1L535.0 1148.0L535.4 1148.9L535.8 1150.0L536.2 1151.2L536.6 1152.5L537.0 1153.8L537.4 1155.3L537.8 1156.8L538.2 1158.4L538.6 1160.1L539.0 1161.9L539.4 1163.7L539.8 1165.6L540.2 1167.5L540.6 1169.5L541.0 1171.5L541.4 1173.5L541.8 1175.6L542.2 1177.7L542.6 1179.8L543.0 1182.0L543.4 1184.1L543.8 1186.2L544.2 1188.4L544.6 1190.5L545.0 1192.6L545.4 1194.7L545.8 1196.8L546.2 1198.8L546.6 1200.9L547.0 1202.8L547.4 1204.7L547.8 1206.6L548.2 1208.4L548.6 1210.1L549.0 1211.8L549.4 1213.4L549.8 1214.9L550.2 1216.3L550.6 1217.7L551.0 1218.9L551.4 1220.1L551.8 1221.1L552.2 1222.1L552.6 1222.9L553.0 1223.6L553.4 1224.2L553.8 1224.6L554.2 1225.0L554.6 1225.2L555.0 1225.3L555.4 1225.2L555.8 1225.0L556.2 1224.7L556.6 1224.3L557.0 1223.7L557.4 1223.0L557.8 1222.1L558.2 1221.1L558.6 1220.0L559.0 1218.8L559.4 1217.4L559.8 1215.9L560.2 1214.4L560.6 1212.7L561.0 1210.9L561.4 1209.0L561.8 1207.0L562.2 1205.0L562.6 1202.8L563.0 1200.6L563.4 1198.4L563.8 1196.1L564.2 1193.8L564.6 1191.4L565.0 1189.0L565.4 1186.6L565.8 1184.2L566.2 1181.8L566.6 1179.5L567.0 1177.1L567.4 1174.8L567.8 1172.5L568.2 1170.3L568.6 1168.2L569.0 1166.1L569.4 1164.1L569.8 1162.2L570.2 1160.4L570.6 1158.6L571.0 1157.0L571.4 1155.5L571.8 1154.1L572.2 1152.8L572.6 1151.7L573.0 1150.6L573.4 1149.7L573.8 1148.9L574.2 1148.3L574.6 1147.7L575.0 1147.3L575.4 1147.1L575.8 1146.9L576.2 1146.9L576.6 1147.0L577.0 1147.3L577.4 1147.6L577.8 1148.1L578.2 1148.7L578.6 1149.4L579.0 1150.2L579.4 1151.2L579.8 1152.2L580.2 1153.3L580.6 1154.5L581.0 1155.8L581.4 1157.2L581.8 1158.7L582.2 1160.2L582.6 1161.8L583.0 1163.5L583.4 1165.2L583.8 1167.0L584.2 1168.8L584.6 1170.7L585.0 1172.6L585.4 1174.5L585.8 1176.5L586.2 1178.5L586.6 1180.5L587.0 1182.5L587.4 1184.6L587.8 1186.6L588.2 1188.6L588.6 1190.6L589.0 1192.7L589.4 1194.6L589.8 1196.6L590.2 1198.5L590.6 1200.4L591.0 1202.3L591.4 1204.1L591.8 1205.9L592.2 1207.6L592.6 1209.2L593.0 1210.8L593.4 1212.3L593.8 1213.7L594.2 1215.1L594.6 1216.3L595.0 1217.5L595.4 1218.6L595.8 1219.5L596.2 1220.4L596.6 1221.2L597.0 1221.9L597.4 1222.4L597.8 1222.8L598.2 1223.1L598.6 1223.3L599.0 1223.4L599.4 1223.3L599.8 1223.1L600.2 1222.8L600.6 1222.4L601.0 1221.8L601.4 1221.1L601.8 1220.3L602.2 1219.3L602.6 1218.3L603.0 1217.1L603.4 1215.8L603.8 1214.4L604.2 1212.8L604.6 1211.2L605.0 1209.5L605.4 1207.7L605.8 1205.8L606.2 1203.9L606.6 1201.8L607.0 1199.7L607.4 1197.6L607.8 1195.4L608.2 1193.2L608.6 1190.9L609.0 1188.7L609.4 1186.4L609.8 1184.1L610.2 1181.8L610.6 1179.6L611.0 1177.4L611.4 1175.2L611.8 1173.0L612.2 1170.9L612.6 1168.9L613.0 1166.9L613.4 1165.0L613.8 1163.2L614.2 1161.5L614.6 1159.9L615.0 1158.4L615.4 1156.9L615.8 1155.6L616.2 1154.4L616.6 1153.3L617.0 1152.3L617.4 1151.5L617.8 1150.7L618.2 1150.1L618.6 1149.6L619.0 1149.3L619.4 1149.0L619.8 1148.9L620.2 1148.9L620.6 1149.0L621.0 1149.3L621.4 1149.6L621.8 1150.1L622.2 1150.7L622.6 1151.4L623.0 1152.1L623.4 1153.0L623.8 1154.0L624.2 1155.1L624.6 1156.3L625.0 1157.5L625.4 1158.8L625.8 1160.2L626.2 1161.7L626.6 1163.2L627.0 1164.8L627.4 1166.5L627.8 1168.2L628.2 1169.9L628.6 1171.7L629.0 1173.5L629.4 1175.4L629.8 1177.3L630.2 1179.2L630.6 1181.1L631.0 1183.0L631.4 1185.0L631.8 1186.9L632.2 1188.8L632.6 1190.7L633.0 1192.7L633.4 1194.5L633.8 1196.4L634.2 1198.3L634.6 1200.1L635.0 1201.8L635.4 1203.5L635.8 1205.2L636.2 1206.8L636.6 1208.4L637.0 1209.9L637.4 1211.3L637.8 1212.7L638.2 1213.9L638.6 1215.1L639.0 1216.2L639.4 1217.3L639.8 1218.2L640.2 1219.0L640.6 1219.7L641.0 1220.3L641.4 1220.8L641.8 1221.2L642.2 1221.5L642.6 1221.7L643.0 1221.7L643.4 1221.7L643.8 1221.5L644.2 1221.1L644.6 1220.7L645.0 1220.1L645.4 1219.5L645.8 1218.7L646.2 1217.7L646.6 1216.7L647.0 1215.6L647.4 1214.3L647.8 1213.0L648.2 1211.5L648.6 1209.9L649.0 1208.3L649.4 1206.6L649.8 1204.8L650.2 1202.9L650.6 1200.9L651.0 1198.9L651.4 1196.9L651.8 1194.8L652.2 1192.7L652.6 1190.5L653.0 1188.3L653.4 1186.2L653.8 1184.0L654.2 1181.8L654.6 1179.7L655.0 1177.6L655.4 1175.5L655.8 1173.4L656.2 1171.4L656.6 1169.5L657.0 1167.6L657.4 1165.8L657.8 1164.1L658.2 1162.5L658.6 1160.9L659.0 1159.5L659.4 1158.1L659.8 1156.9L660.2 1155.7L660.6 1154.7L661.0 1153.8L661.4 1153.0L661.8 1152.3L662.2 1151.7L662.6 1151.3L663.0 1150.9L663.4 1150.7L663.8 1150.6L664.2 1150.6L664.6 1150.7L665.0 1151.0L665.4 1151.3L665.8 1151.8L666.2 1152.4L666.6 1153.0L667.0 1153.8L667.4 1154.6L667.8 1155.6L668.2 1156.6L668.6 1157.8L669.0 1159.0L669.4 1160.2L669.8 1161.6L670.2 1163.0L670.6 1164.5L671.0 1166.0L671.4 1167.6L671.8 1169.2L672.2 1170.9L672.6 1172.6L673.0 1174.4L673.4 1176.1L673.8 1177.9L674.2 1179.8L674.6 1181.6L675.0 1183.4L675.4 1185.3L675.8 1187.1L676.2 1189.0L676.6 1190.8L677.0 1192.7L677.4 1194.5L677.8 1196.2L678.2 1198.0L678.6 1199.7L679.0 1201.4L679.4 1203.0L679.8 1204.6L680.2 1206.2L680.6 1207.7L681.0 1209.1L681.4 1210.5L681.8 1211.7L682.2 1213.0L682.6 1214.1L683.0 1215.1L683.4 1216.1L683.8 1217.0L684.2 1217.8L684.6 1218.4L685.0 1219.0L685.4 1219.5L685.8 1219.8L686.2 1220.1L686.6 1220.2L687.0 1220.3L687.4 1220.2L687.8 1220.0L688.2 1219.7L688.6 1219.2L689.0 1218.7L689.4 1218.0L689.8 1217.2L690.2 1216.4L690.6 1215.4L691.0 1214.2L691.4 1213.0L691.8 1211.7L692.2 1210.3L692.6 1208.8L693.0 1207.2L693.4 1205.6L693.8 1203.8L694.2 1202.0L694.6 1200.1L695.0 1198.2L695.4 1196.2L695.8 1194.2L696.2 1192.2L696.6 1190.1L697.0 1188.0L697.4 1186.0L697.8 1183.9L698.2 1181.8L698.6 1179.7L699.0 1177.7L699.4 1175.7L699.8 1173.8L700.2 1171.9L700.6 1170.0L701.0 1168.2L701.4 1166.5L701.8 1164.9L702.2 1163.3L702.6 1161.8L703.0 1160.4L703.4 1159.2L703.8 1158.0L704.2 1156.9L704.6 1155.9L705.0 1155.0L705.4 1154.3L705.8 1153.6L706.2 1153.1L706.6 1152.7L707.0 1152.4L707.4 1152.2L707.8 1152.1L708.2 1152.1L708.6 1152.2L709.0 1152.5L709.4 1152.8L709.8 1153.3L710.2 1153.8L710.6 1154.5L711.0 1155.2L711.4 1156.1L711.8 1157.0L712.2 1158.0L712.6 1159.1L713.0 1160.2L713.4 1161.5L713.8 1162.8L714.2 1164.1L714.6 1165.6L715.0 1167.0L715.4 1168.6L715.8 1170.1L716.2 1171.7L716.6 1173.4L717.0 1175.1L717.4 1176.8L717.8 1178.5L718.2 1180.3L718.6 1182.0L719.0 1183.8L719.4 1185.6L719.8 1187.4L720.2 1189.1L720.6 1190.9L721.0 1192.7L721.4 1194.4L721.8 1196.1L722.2 1197.8L722.6 1199.4L723.0 1201.0L723.4 1202.6L723.8 1204.1L724.2 1205.6L724.6 1207.0L725.0 1208.4L725.4 1209.7L725.8 1210.9L726.2 1212.1L726.6 1213.2L727.0 1214.2L727.4 1215.1L727.8 1215.9L728.2 1216.6L728.6 1217.3L729.0 1217.8L729.4 1218.3L729.8 1218.6L730.2 1218.8L730.6 1219.0L731.0 1219.0L731.4 1218.9L731.8 1218.7L732.2 1218.4L732.6 1217.9L733.0 1217.4L733.4 1216.7L733.8 1216.0L734.2 1215.1L734.6 1214.1L735.0 1213.1L735.4 1211.9L735.8 1210.6L736.2 1209.2L736.6 1207.8L737.0 1206.2L737.4 1204.6L737.8 1203.0L738.2 1201.2L738.6 1199.4L739.0 1197.5L739.4 1195.6L739.8 1193.7L740.2 1191.7L740.6 1189.7L741.0 1187.7L741.4 1185.7L741.8 1183.7L742.2 1181.7L742.6 1179.8L743.0 1177.8L743.4 1175.9L743.8 1174.0L744.2 1172.2L744.6 1170.4L745.0 1168.7L745.4 1167.1L745.8 1165.5L746.2 1164.0L746.6 1162.6L747.0 1161.3L747.4 1160.1L747.8 1158.9L748.2 1157.9L748.6 1157.0L749.0 1156.1L749.4 1155.4L749.8 1154.8L750.2 1154.3L750.6 1153.9L751.0 1153.6L751.4 1153.5L751.8 1153.4L752.2 1153.4L752.6 1153.6L753.0 1153.8L753.4 1154.2L753.8 1154.6L754.2 1155.1L754.6 1155.8L755.0 1156.5L755.4 1157.3L755.8 1158.2L756.2 1159.2L756.6 1160.3L757.0 1161.4L757.4 1162.6L757.8 1163.8L758.2 1165.2L758.6 1166.5L759.0 1168.0L759.4 1169.4L759.8 1170.9L760.2 1172.5L760.6 1174.1L761.0 1175.7L761.4 1177.4L761.8 1179.0L762.2 1180.7L762.6 1182.4L763.0 1184.1L763.4 1185.8L763.8 1187.6L764.2 1189.3L764.6 1191.0L765.0 1192.7L765.4 1194.3L765.8 1196.0L766.2 1197.6L766.6 1199.2L767.0 1200.7L767.4 1202.2L767.8 1203.7L768.2 1205.1L768.6 1206.5L769.0 1207.8L769.4 1209.0L769.8 1210.2L770.2 1211.3L770.6 1212.3L771.0 1213.3L771.4 1214.2L771.8 1214.9L772.2 1215.6L772.6 1216.2L773.0 1216.8L773.4 1217.2L773.8 1217.5L774.2 1217.7L774.6 1217.8L775.0 1217.8L775.4 1217.7L775.8 1217.5L776.2 1217.2L776.6 1216.8L777.0 1216.2L777.4 1215.6L777.8 1214.8L778.2 1214.0L778.6 1213.0L779.0 1212.0L779.4 1210.8L779.8 1209.6L780.2 1208.3L780.6 1206.8L781.0 1205.4L781.4 1203.8L781.8 1202.2L782.2 1200.5L782.6 1198.7L783.0 1196.9L783.4 1195.1L783.8 1193.2L784.2 1191.3L784.6 1189.4L785.0 1187.5L785.4 1185.5L785.8 1183.6L786.2 1181.7L786.6 1179.8L787.0 1177.9L787.4 1176.1L787.8 1174.3L788.2 1172.5L788.6 1170.8L789.0 1169.2L789.4 1167.6L789.8 1166.1L790.2 1164.6L790.6 1163.3L791.0 1162.0L791.4 1160.9L791.8 1159.8L792.2 1158.8L792.6 1157.9L793.0 1157.1L793.4 1156.4L793.8 1155.9L794.2 1155.4L794.6 1155.0L795.0 1154.8L795.4 1154.6L795.8 1154.5L796.2 1154.6L796.6 1154.7L797.0 1155.0L797.4 1155.3L797.8 1155.8L798.2 1156.3L798.6 1156.9L799.0 1157.7L799.4 1158.4L799.8 1159.3L800.2 1160.3L800.6 1161.3L801.0 1162.4L801.4 1163.6L801.8 1164.8L802.2 1166.1L802.6 1167.4L803.0 1168.8L803.4 1170.2L803.8 1171.7L804.2 1173.2L804.6 1174.7L805.0 1176.3L805.4 1177.9L805.8 1179.5L806.2 1181.1L806.6 1182.8L807.0 1184.4L807.4 1186.1L807.8 1187.7L808.2 1189.4L808.6 1191.0L809.0 1192.6L809.4 1194.3L809.8 1195.8L810.2 1197.4L810.6 1198.9L811.0 1200.4L811.4 1201.9L811.8 1203.3L812.2 1204.6L812.6 1206.0L813.0 1207.2L813.4 1208.4L813.8 1209.5L814.2 1210.6L814.6 1211.6L815.0 1212.5L815.4 1213.3L815.8 1214.1L816.2 1214.7L816.6 1215.3L817.0 1215.8L817.4 1216.2L817.8 1216.5L818.2 1216.7L818.6 1216.8L819.0 1216.8L819.4 1216.6L819.8 1216.4L820.2 1216.1L820.6 1215.7L821.0 1215.2L821.4 1214.5L821.8 1213.8L822.2 1213.0L822.6 1212.0L823.0 1211.0L823.4 1209.9L823.8 1208.7L824.2 1207.4L824.6 1206.0L825.0 1204.5L825.4 1203.0L825.8 1201.4L826.2 1199.8L826.6 1198.1L827.0 1196.4L827.4 1194.6L827.8 1192.8L828.2 1190.9L828.6 1189.1L829.0 1187.2L829.4 1185.3L829.8 1183.5L830.2 1181.6L830.6 1179.8L831.0 1178.0L831.4 1176.2L831.8 1174.4L832.2 1172.8L832.6 1171.1L833.0 1169.5L833.4 1168.0L833.8 1166.6L834.2 1165.2L834.6 1163.9L835.0 1162.7L835.4 1161.6L835.8 1160.5L836.2 1159.6L836.6 1158.7L837.0 1158.0L837.4 1157.4L837.8 1156.8L838.2 1156.4L838.6 1156.0L839.0 1155.8L839.4 1155.6L839.8 1155.6L840.2 1155.7L840.6 1155.8L841.0 1156.1L841.4 1156.4L841.8 1156.8L842.2 1157.4L842.6 1158.0L843.0 1158.7L843.4 1159.5L843.8 1160.3L844.2 1161.2L844.6 1162.2L845.0 1163.3L845.4 1164.4L845.8 1165.6L846.2 1166.9L846.6 1168.2L847.0 1169.5L847.4 1170.9L847.8 1172.3L848.2 1173.8L848.6 1175.3L849.0 1176.8L849.4 1178.4L849.8 1179.9L850.2 1181.5L850.6 1183.1L851.0 1184.7L851.4 1186.3L851.8 1187.9L852.2 1189.5L852.6 1191.1L853.0 1192.6L853.4 1194.2L853.8 1195.7L854.2 1197.2L854.6 1198.7L855.0 1200.2L855.4 1201.6L855.8 1202.9L856.2 1204.2L856.6 1205.5L857.0 1206.7L857.4 1207.8L857.8 1208.9L858.2 1209.9L858.6 1210.9L859.0 1211.8L859.4 1212.6L859.8 1213.3L860.2 1213.9L860.6 1214.5L861.0 1214.9L861.4 1215.3L861.8 1215.6L862.2 1215.7L862.6 1215.8L863.0 1215.8L863.4 1215.7L863.8 1215.5L864.2 1215.1L864.6 1214.7L865.0 1214.2L865.4 1213.6L865.8 1212.8L866.2 1212.0L866.6 1211.1L867.0 1210.1L867.4 1209.0L867.8 1207.8L868.2 1206.6L868.6 1205.2L869.0 1203.8L869.4 1202.3L869.8 1200.8L870.2 1199.2L870.6 1197.5L871.0 1195.8L871.4 1194.1L871.8 1192.4L872.2 1190.6L872.6 1188.8L873.0 1187.0L873.4 1185.1L873.8 1183.3L874.2 1181.5L874.6 1179.8L875.0 1178.0L875.4 1176.3L875.8 1174.6L876.2 1173.0L876.6 1171.4L877.0 1169.9L877.4 1168.4L877.8 1167.0L878.2 1165.7L878.6 1164.4L879.0 1163.3L879.4 1162.2L879.8 1161.2L880.2 1160.3L880.6 1159.5L881.0 1158.8L881.4 1158.2L881.8 1157.7L882.2 1157.2L882.6 1156.9L883.0 1156.7L883.4 1156.6L883.8 1156.5L884.2 1156.6L884.6 1156.8L885.0 1157.0L885.4 1157.4L885.8 1157.8L886.2 1158.3L886.6 1158.9L887.0 1159.6L887.4 1160.4L887.8 1161.2L888.2 1162.1L888.6 1163.1L889.0 1164.1L889.4 1165.3L889.8 1166.4L890.2 1167.6L890.6 1168.9L891.0 1170.2L891.4 1171.5L891.8 1172.9L892.2 1174.4L892.6 1175.8L893.0 1177.3L893.4 1178.8L893.8 1180.3L894.2 1181.8L894.6 1183.4L895.0 1184.9L895.4 1186.5L895.8 1188.0L896.2 1189.6L896.6 1191.1L897.0 1192.6L897.4 1194.2L897.8 1195.6L898.2 1197.1L898.6 1198.5L899.0 1199.9L899.4 1201.3L899.8 1202.6L900.2 1203.8L900.6 1205.1L901.0 1206.2L901.4 1207.3L901.8 1208.4L902.2 1209.4L902.6 1210.3L903.0 1211.1L903.4 1211.9L903.8 1212.6L904.2 1213.2L904.6 1213.7L905.0 1214.1L905.4 1214.5L905.8 1214.7L906.2 1214.9L906.6 1214.9L907.0 1214.9L907.4 1214.8L907.8 1214.6L908.2 1214.2L908.6 1213.8L909.0 1213.3L909.4 1212.7L909.8 1212.0L910.2 1211.1L910.6 1210.2L911.0 1209.3L911.4 1208.2L911.8 1207.0L912.2 1205.8L912.6 1204.5L913.0 1203.1L913.4 1201.7L913.8 1200.2L914.2 1198.6L914.6 1197.0L915.0 1195.4L915.4 1193.7L915.8 1192.0L916.2 1190.2L916.6 1188.5L917.0 1186.7L917.4 1185.0L917.8 1183.2L918.2 1181.5L918.6 1179.7L919.0 1178.0L919.4 1176.4L919.8 1174.8L920.2 1173.2L920.6 1171.6L921.0 1170.2L921.4 1168.8L921.8 1167.4L922.2 1166.1L922.6 1164.9L923.0 1163.8L923.4 1162.8L923.8 1161.8L924.2 1161.0L924.6 1160.2L925.0 1159.5L925.4 1158.9L925.8 1158.4L926.2 1158.0L926.6 1157.7L927.0 1157.5L927.4 1157.4L927.8 1157.4L928.2 1157.5L928.6 1157.6L929.0 1157.9L929.4 1158.3L929.8 1158.7L930.2 1159.2L930.6 1159.8L931.0 1160.5L931.4 1161.2L931.8 1162.0L932.2 1162.9L932.6 1163.9L933.0 1164.9L933.4 1166.0L933.8 1167.1L934.2 1168.3L934.6 1169.5L935.0 1170.8L935.4 1172.1L935.8 1173.5L936.2 1174.9L936.6 1176.3L937.0 1177.7L937.4 1179.2L937.8 1180.7L938.2 1182.2L938.6 1183.7L939.0 1185.2L939.4 1186.7L939.8 1188.2L940.2 1189.7L940.6 1191.2L941.0 1192.7L941.4 1194.1L941.8 1195.6L942.2 1197.0L942.6 1198.3L943.0 1199.7L943.4 1201.0L943.8 1202.3L944.2 1203.5L944.6 1204.7L945.0 1205.8L945.4 1206.9L945.8 1207.9L946.2 1208.8L946.6 1209.7L947.0 1210.5L947.4 1211.2L947.8 1211.9L948.2 1212.5L948.6 1213.0L949.0 1213.4L949.4 1213.7L949.8 1213.9L950.2 1214.1L950.6 1214.1L951.0 1214.1L951.4 1214.0L951.8 1213.7L952.2 1213.4L952.6 1213.0L953.0 1212.5L953.4 1211.8L953.8 1211.1L954.2 1210.4L954.6 1209.5L955.0 1208.5L955.4 1207.4L955.8 1206.3L956.2 1205.1L956.6 1203.8L957.0 1202.5L957.4 1201.1L957.8 1199.6L958.2 1198.1L958.6 1196.5L959.0 1194.9L959.4 1193.3L959.8 1191.6L960.2 1189.9L960.6 1188.2L961.0 1186.5L961.4 1184.8L961.8 1183.1L962.2 1181.4L962.6 1179.7L963.0 1178.1L963.4 1176.5L963.8 1174.9L964.2 1173.3L964.6 1171.9L965.0 1170.4L965.4 1169.1L965.8 1167.8L966.2 1166.5L966.6 1165.4L967.0 1164.3L967.4 1163.3L967.8 1162.4L968.2 1161.6L968.6 1160.8L969.0 1160.2L969.4 1159.6L969.8 1159.1L970.2 1158.8" fill="none" stroke="#dc4506" stroke-width="6.0" stroke-linejoin="round"/>
<text x="244.0" y="1032.0" font-size="63.0" text-anchor="end">0.08</text>
<text x="244.0" y="1191.0" font-size="63.0" text-anchor="end">0.04</text>
<text x="244.0" y="1348.0" font-size="63.0" text-anchor="end">0.02</text>
<text x="349.8" y="1410.0" font-size="63.0" text-anchor="middle">0.2</text>
<text x="505.0" y="1410.0" font-size="63.0" text-anchor="middle">0.4</text>
<text x="660.3" y="1410.0" font-size="63.0" text-anchor="middle">0.6</text>
<text x="815.6" y="1410.0" font-size="63.0" text-anchor="middle">0.8</text>
<text x="288.0" y="1070.5" font-size="63.0" text-anchor="start">(b2)</text>
<text transform="translate(101.5 1297.5) rotate(-90)" font-size="70.5">P<tspan dy="34" font-size="55">out</tspan><tspan dy="-34" dx="4">(a.u.)</tspan></text>
<rect x="267.8" y="1438.0" width="707.2" height="321.0" fill="#fff" stroke="#303030" stroke-width="4.6"/>
<path d="M345.8 1759.0 v-6.8 M345.8 1438.0 v6.8M503.2 1759.0 v-6.8 M503.2 1438.0 v6.8M660.6 1759.0 v-6.8 M660.6 1438.0 v6.8M818.0 1759.0 v-6.8 M818.0 1438.0 v6.8M267.8 1497.5 h6.8 M975.0 1497.5 h-6.8M267.8 1659.0 h6.8 M975.0 1659.0 h-6.8" stroke="#303030" stroke-width="4" fill="none"/>
<path d="M267.8 1712.3L268.2 1710.6L268.6 1708.4L269.0 1705.8L269.4 1702.8L269.8 1699.4L270.2 1695.5L270.6 1691.3L271.0 1686.8L271.4 1681.9L271.8 1676.7L272.2 1671.2L272.6 1665.4L273.0 1659.4L273.4 1653.2L273.8 1646.8L274.2 1640.3L274.6 1633.7L275.0 1626.9L275.4 1620.1L275.8 1613.3L276.2 1606.5L276.6 1599.7L277.0 1593.0L277.4 1586.4L277.8 1580.0L278.2 1573.7L278.6 1567.5L279.0 1561.7L279.4 1556.0L279.8 1550.7L280.2 1545.6L280.6 1540.8L281.0 1536.4L281.4 1532.4L281.8 1528.8L282.2 1525.5L282.6 1522.7L283.0 1520.3L283.4 1518.4L283.8 1516.9L284.2 1515.8L284.6 1515.2L285.0 1515.2L285.4 1515.8L285.8 1516.6L286.2 1517.6L286.6 1518.8L287.0 1520.2L287.4 1521.8L287.8 1523.5L288.2 1525.5L288.6 1527.6L289.0 1529.9L289.4 1532.4L289.8 1535.0L290.2 1537.7L290.6 1540.6L291.0 1543.6L291.4 1546.7L291.8 1549.9L292.2 1553.3L292.6 1556.7L293.0 1560.2L293.4 1563.9L293.8 1567.5L294.2 1571.3L294.6 1575.1L295.0 1579.0L295.4 1582.9L295.8 1586.8L296.2 1590.8L296.6 1594.8L297.0 1598.9L297.4 1602.9L297.8 1606.9L298.2 1611.0L298.6 1615.0L299.0 1619.0L299.4 1623.0L299.8 1627.0L300.2 1630.9L300.6 1634.8L301.0 1638.7L301.4 1642.5L301.8 1646.2L302.2 1649.9L302.6 1653.5L303.0 1657.0L303.4 1660.5L303.8 1663.8L304.2 1667.1L304.6 1670.3L305.0 1673.3L305.4 1676.3L305.8 1679.1L306.2 1681.8L306.6 1684.4L307.0 1686.9L307.4 1689.2L307.8 1691.4L308.2 1693.4L308.6 1695.3L309.0 1697.1L309.4 1698.7L309.8 1700.1L310.2 1701.4L310.6 1702.5L311.0 1703.4L311.4 1704.1L311.8 1704.7L312.2 1705.1L312.6 1705.3L313.0 1705.4L313.4 1705.2L313.8 1704.9L314.2 1704.4L314.6 1703.7L315.0 1702.9L315.4 1701.8L315.8 1700.6L316.2 1699.2L316.6 1697.7L317.0 1695.9L317.4 1694.1L317.8 1692.0L318.2 1689.8L318.6 1687.4L319.0 1685.0L319.4 1682.3L319.8 1679.6L320.2 1676.7L320.6 1673.7L321.0 1670.6L321.4 1667.3L321.8 1664.0L322.2 1660.7L322.6 1657.2L323.0 1653.7L323.4 1650.1L323.8 1646.5L324.2 1642.8L324.6 1639.2L325.0 1635.5L325.4 1631.8L325.8 1628.1L326.2 1624.4L326.6 1620.8L327.0 1617.1L327.4 1613.6L327.8 1610.0L328.2 1606.6L328.6 1603.2L329.0 1599.9L329.4 1596.7L329.8 1593.6L330.2 1590.5L330.6 1587.6L331.0 1584.8L331.4 1582.2L331.8 1579.6L332.2 1577.2L332.6 1574.9L333.0 1572.8L333.4 1570.8L333.8 1569.0L334.2 1567.3L334.6 1565.8L335.0 1564.4L335.4 1563.2L335.8 1562.1L336.2 1561.2L336.6 1560.4L337.0 1559.8L337.4 1559.3L337.8 1559.0L338.2 1558.9L338.6 1558.9L339.0 1559.0L339.4 1559.3L339.8 1559.7L340.2 1560.2L340.6 1560.9L341.0 1561.7L341.4 1562.6L341.8 1563.7L342.2 1564.8L342.6 1566.1L343.0 1567.5L343.4 1569.0L343.8 1570.6L344.2 1572.3L344.6 1574.0L345.0 1575.9L345.4 1577.8L345.8 1579.9L346.2 1582.0L346.6 1584.1L347.0 1586.3L347.4 1588.6L347.8 1590.9L348.2 1593.3L348.6 1595.7L349.0 1598.2L349.4 1600.7L349.8 1603.2L350.2 1605.7L350.6 1608.3L351.0 1610.9L351.4 1613.5L351.8 1616.1L352.2 1618.6L352.6 1621.2L353.0 1623.8L353.4 1626.4L353.8 1629.0L354.2 1631.5L354.6 1634.0L355.0 1636.5L355.4 1639.0L355.8 1641.4L356.2 1643.8L356.6 1646.2L357.0 1648.5L357.4 1650.7L357.8 1652.9L358.2 1655.1L358.6 1657.1L359.0 1659.2L359.4 1661.1L359.8 1663.0L360.2 1664.8L360.6 1666.5L361.0 1668.1L361.4 1669.7L361.8 1671.1L362.2 1672.5L362.6 1673.8L363.0 1675.0L363.4 1676.0L363.8 1677.0L364.2 1677.9L364.6 1678.7L365.0 1679.3L365.4 1679.8L365.8 1680.3L366.2 1680.6L366.6 1680.8L367.0 1680.9L367.4 1680.8L367.8 1680.7L368.2 1680.4L368.6 1680.0L369.0 1679.5L369.4 1678.9L369.8 1678.2L370.2 1677.3L370.6 1676.4L371.0 1675.3L371.4 1674.1L371.8 1672.8L372.2 1671.4L372.6 1669.9L373.0 1668.3L373.4 1666.6L373.8 1664.9L374.2 1663.0L374.6 1661.1L375.0 1659.1L375.4 1657.0L375.8 1654.8L376.2 1652.6L376.6 1650.4L377.0 1648.0L377.4 1645.7L377.8 1643.3L378.2 1640.9L378.6 1638.5L379.0 1636.0L379.4 1633.6L379.8 1631.1L380.2 1628.7L380.6 1626.3L381.0 1623.8L381.4 1621.5L381.8 1619.1L382.2 1616.8L382.6 1614.5L383.0 1612.3L383.4 1610.1L383.8 1608.0L384.2 1605.9L384.6 1603.9L385.0 1602.0L385.4 1600.2L385.8 1598.4L386.2 1596.8L386.6 1595.2L387.0 1593.7L387.4 1592.3L387.8 1591.0L388.2 1589.8L388.6 1588.7L389.0 1587.7L389.4 1586.8L389.8 1586.0L390.2 1585.4L390.6 1584.8L391.0 1584.3L391.4 1583.9L391.8 1583.6L392.2 1583.5L392.6 1583.4L393.0 1583.4L393.4 1583.5L393.8 1583.7L394.2 1584.1L394.6 1584.4L395.0 1584.9L395.4 1585.5L395.8 1586.2L396.2 1586.9L396.6 1587.7L397.0 1588.6L397.4 1589.5L397.8 1590.6L398.2 1591.7L398.6 1592.8L399.0 1594.0L399.4 1595.3L399.8 1596.6L400.2 1598.0L400.6 1599.4L401.0 1600.9L401.4 1602.4L401.8 1603.9L402.2 1605.5L402.6 1607.1L403.0 1608.7L403.4 1610.4L403.8 1612.0L404.2 1613.7L404.6 1615.5L405.0 1617.2L405.4 1618.9L405.8 1620.6L406.2 1622.4L406.6 1624.1L407.0 1625.9L407.4 1627.6L407.8 1629.3L408.2 1631.0L408.6 1632.7L409.0 1634.4L409.4 1636.1L409.8 1637.7L410.2 1639.3L410.6 1640.9L411.0 1642.5L411.4 1644.0L411.8 1645.5L412.2 1647.0L412.6 1648.4L413.0 1649.8L413.4 1651.1L413.8 1652.4L414.2 1653.7L414.6 1654.8L415.0 1656.0L415.4 1657.0L415.8 1658.1L416.2 1659.0L416.6 1659.9L417.0 1660.7L417.4 1661.5L417.8 1662.2L418.2 1662.8L418.6 1663.4L419.0 1663.9L419.4 1664.3L419.8 1664.6L420.2 1664.8L420.6 1665.0L421.0 1665.1L421.4 1665.1L421.8 1665.1L422.2 1664.9L422.6 1664.7L423.0 1664.4L423.4 1664.0L423.8 1663.6L424.2 1663.0L424.6 1662.4L425.0 1661.7L425.4 1661.0L425.8 1660.1L426.2 1659.2L426.6 1658.3L427.0 1657.2L427.4 1656.1L427.8 1654.9L428.2 1653.7L428.6 1652.4L429.0 1651.1L429.4 1649.7L429.8 1648.3L430.2 1646.8L430.6 1645.3L431.0 1643.8L431.4 1642.2L431.8 1640.6L432.2 1639.0L432.6 1637.3L433.0 1635.7L433.4 1634.0L433.8 1632.4L434.2 1630.7L434.6 1629.1L435.0 1627.4L435.4 1625.8L435.8 1624.2L436.2 1622.6L436.6 1621.0L437.0 1619.5L437.4 1618.0L437.8 1616.6L438.2 1615.1L438.6 1613.8L439.0 1612.4L439.4 1611.2L439.8 1610.0L440.2 1608.8L440.6 1607.7L441.0 1606.7L441.4 1605.7L441.8 1604.8L442.2 1603.9L442.6 1603.1L443.0 1602.4L443.4 1601.8L443.8 1601.2L444.2 1600.7L444.6 1600.3L445.0 1599.9L445.4 1599.6L445.8 1599.4L446.2 1599.2L446.6 1599.2L447.0 1599.1L447.4 1599.2L447.8 1599.3L448.2 1599.4L448.6 1599.7L449.0 1600.0L449.4 1600.3L449.8 1600.7L450.2 1601.2L450.6 1601.7L451.0 1602.3L451.4 1602.9L451.8 1603.5L452.2 1604.3L452.6 1605.0L453.0 1605.8L453.4 1606.6L453.8 1607.5L454.2 1608.4L454.6 1609.4L455.0 1610.3L455.4 1611.3L455.8 1612.4L456.2 1613.4L456.6 1614.5L457.0 1615.6L457.4 1616.7L457.8 1617.8L458.2 1618.9L458.6 1620.1L459.0 1621.3L459.4 1622.4L459.8 1623.6L460.2 1624.8L460.6 1626.0L461.0 1627.1L461.4 1628.3L461.8 1629.5L462.2 1630.6L462.6 1631.8L463.0 1633.0L463.4 1634.1L463.8 1635.2L464.2 1636.3L464.6 1637.4L465.0 1638.5L465.4 1639.5L465.8 1640.6L466.2 1641.6L466.6 1642.6L467.0 1643.5L467.4 1644.4L467.8 1645.3L468.2 1646.2L468.6 1647.0L469.0 1647.8L469.4 1648.5L469.8 1649.3L470.2 1649.9L470.6 1650.6L471.0 1651.1L471.4 1651.7L471.8 1652.2L472.2 1652.6L472.6 1653.0L473.0 1653.4L473.4 1653.7L473.8 1653.9L474.2 1654.1L474.6 1654.3L475.0 1654.4L475.4 1654.4L475.8 1654.4L476.2 1654.3L476.6 1654.2L477.0 1654.0L477.4 1653.8L477.8 1653.5L478.2 1653.2L478.6 1652.8L479.0 1652.3L479.4 1651.9L479.8 1651.3L480.2 1650.7L480.6 1650.1L481.0 1649.4L481.4 1648.6L481.8 1647.9L482.2 1647.0L482.6 1646.2L483.0 1645.3L483.4 1644.3L483.8 1643.4L484.2 1642.4L484.6 1641.4L485.0 1640.3L485.4 1639.2L485.8 1638.1L486.2 1637.0L486.6 1635.9L487.0 1634.8L487.4 1633.7L487.8 1632.5L488.2 1631.4L488.6 1630.2L489.0 1629.1L489.4 1628.0L489.8 1626.9L490.2 1625.8L490.6 1624.7L491.0 1623.6L491.4 1622.6L491.8 1621.6L492.2 1620.6L492.6 1619.6L493.0 1618.7L493.4 1617.8L493.8 1616.9L494.2 1616.1L494.6 1615.3L495.0 1614.6L495.4 1613.9L495.8 1613.2L496.2 1612.6L496.6 1612.0L497.0 1611.5L497.4 1611.1L497.8 1610.6L498.2 1610.3L498.6 1609.9L499.0 1609.6L499.4 1609.4L499.8 1609.2L500.2 1609.1L500.6 1609.0L501.0 1609.0L501.4 1609.0L501.8 1609.0L502.2 1609.1L502.6 1609.2L503.0 1609.4L503.4 1609.6L503.8 1609.9L504.2 1610.2L504.6 1610.5L505.0 1610.9L505.4 1611.3L505.8 1611.8L506.2 1612.2L506.6 1612.7L507.0 1613.3L507.4 1613.8L507.8 1614.4L508.2 1615.0L508.6 1615.7L509.0 1616.3L509.4 1617.0L509.8 1617.7L510.2 1618.4L510.6 1619.2L511.0 1619.9L511.4 1620.7L511.8 1621.5L512.2 1622.2L512.6 1623.0L513.0 1623.8L513.4 1624.6L513.8 1625.4L514.2 1626.2L514.6 1627.1L515.0 1627.9L515.4 1628.7L515.8 1629.5L516.2 1630.3L516.6 1631.1L517.0 1631.9L517.4 1632.7L517.8 1633.5L518.2 1634.2L518.6 1635.0L519.0 1635.7L519.4 1636.5L519.8 1637.2L520.2 1637.9L520.6 1638.6L521.0 1639.3L521.4 1639.9L521.8 1640.5L522.2 1641.1L522.6 1641.7L523.0 1642.3L523.4 1642.8L523.8 1643.3L524.2 1643.8L524.6 1644.2L525.0 1644.7L525.4 1645.0L525.8 1645.4L526.2 1645.7L526.6 1646.0L527.0 1646.3L527.4 1646.5L527.8 1646.7L528.2 1646.9L528.6 1647.0L529.0 1647.1L529.4 1647.1L529.8 1647.1L530.2 1647.1L530.6 1647.0L531.0 1646.9L531.4 1646.8L531.8 1646.6L532.2 1646.4L532.6 1646.1L533.0 1645.8L533.4 1645.5L533.8 1645.2L534.2 1644.8L534.6 1644.3L535.0 1643.9L535.4 1643.4L535.8 1642.8L536.2 1642.3L536.6 1641.7L537.0 1641.1L537.4 1640.5L537.8 1639.8L538.2 1639.1L538.6 1638.4L539.0 1637.7L539.4 1637.0L539.8 1636.3L540.2 1635.5L540.6 1634.7L541.0 1634.0L541.4 1633.2L541.8 1632.4L542.2 1631.6L542.6 1630.8L543.0 1630.0L543.4 1629.3L543.8 1628.5L544.2 1627.7L544.6 1627.0L545.0 1626.2L545.4 1625.5L545.8 1624.8L546.2 1624.1L546.6 1623.4L547.0 1622.8L547.4 1622.1L547.8 1621.5L548.2 1621.0L548.6 1620.4L549.0 1619.9L549.4 1619.4L549.8 1618.9L550.2 1618.5L550.6 1618.1L551.0 1617.7L551.4 1617.4L551.8 1617.1L552.2 1616.8L552.6 1616.5L553.0 1616.3L553.4 1616.2L553.8 1616.0L554.2 1615.9L554.6 1615.8L555.0 1615.8L555.4 1615.8L555.8 1615.8L556.2 1615.8L556.6 1615.9L557.0 1616.0L557.4 1616.2L557.8 1616.3L558.2 1616.5L558.6 1616.8L559.0 1617.0L559.4 1617.3L559.8 1617.6L560.2 1617.9L560.6 1618.2L561.0 1618.6L561.4 1619.0L561.8 1619.4L562.2 1619.8L562.6 1620.2L563.0 1620.7L563.4 1621.1L563.8 1621.6L564.2 1622.1L564.6 1622.6L565.0 1623.1L565.4 1623.6L565.8 1624.1L566.2 1624.7L566.6 1625.2L567.0 1625.8L567.4 1626.3L567.8 1626.9L568.2 1627.4L568.6 1628.0L569.0 1628.5L569.4 1629.1L569.8 1629.7L570.2 1630.2L570.6 1630.8L571.0 1631.3L571.4 1631.9L571.8 1632.4L572.2 1632.9L572.6 1633.5L573.0 1634.0L573.4 1634.5L573.8 1635.0L574.2 1635.5L574.6 1635.9L575.0 1636.4L575.4 1636.9L575.8 1637.3L576.2 1637.7L576.6 1638.1L577.0 1638.5L577.4 1638.9L577.8 1639.2L578.2 1639.6L578.6 1639.9L579.0 1640.2L579.4 1640.5L579.8 1640.7L580.2 1641.0L580.6 1641.2L581.0 1641.4L581.4 1641.5L581.8 1641.7L582.2 1641.8L582.6 1641.9L583.0 1642.0L583.4 1642.0L583.8 1642.0L584.2 1642.0L584.6 1642.0L585.0 1641.9L585.4 1641.9L585.8 1641.8L586.2 1641.6L586.6 1641.5L587.0 1641.3L587.4 1641.1L587.8 1640.9L588.2 1640.6L588.6 1640.4L589.0 1640.1L589.4 1639.8L589.8 1639.4L590.2 1639.1L590.6 1638.7L591.0 1638.3L591.4 1637.9L591.8 1637.4L592.2 1637.0L592.6 1636.5L593.0 1636.0L593.4 1635.5L593.8 1635.0L594.2 1634.5L594.6 1634.0L595.0 1633.5L595.4 1633.0L595.8 1632.4L596.2 1631.9L596.6 1631.3L597.0 1630.8L597.4 1630.3L597.8 1629.7L598.2 1629.2L598.6 1628.7L599.0 1628.2L599.4 1627.7L599.8 1627.2L600.2 1626.7L600.6 1626.2L601.0 1625.8L601.4 1625.3L601.8 1624.9L602.2 1624.5L602.6 1624.1L603.0 1623.7L603.4 1623.4L603.8 1623.0L604.2 1622.7L604.6 1622.4L605.0 1622.2L605.4 1621.9L605.8 1621.7L606.2 1621.5L606.6 1621.3L607.0 1621.1L607.4 1621.0L607.8 1620.9L608.2 1620.8L608.6 1620.7L609.0 1620.7L609.4 1620.7L609.8 1620.7L610.2 1620.7L610.6 1620.7L611.0 1620.8L611.4 1620.9L611.8 1621.0L612.2 1621.1L612.6 1621.2L613.0 1621.4L613.4 1621.5L613.8 1621.7L614.2 1621.9L614.6 1622.1L615.0 1622.4L615.4 1622.6L615.8 1622.9L616.2 1623.2L616.6 1623.5L617.0 1623.8L617.4 1624.1L617.8 1624.4L618.2 1624.8L618.6 1625.1L619.0 1625.5L619.4 1625.8L619.8 1626.2L620.2 1626.6L620.6 1627.0L621.0 1627.3L621.4 1627.7L621.8 1628.1L622.2 1628.5L622.6 1628.9L623.0 1629.3L623.4 1629.7L623.8 1630.2L624.2 1630.6L624.6 1631.0L625.0 1631.4L625.4 1631.8L625.8 1632.2L626.2 1632.6L626.6 1632.9L627.0 1633.3L627.4 1633.7L627.8 1634.1L628.2 1634.5L628.6 1634.8L629.0 1635.2L629.4 1635.5L629.8 1635.8L630.2 1636.2L630.6 1636.5L631.0 1636.8L631.4 1637.1L631.8 1637.4L632.2 1637.6L632.6 1637.9L633.0 1638.1L633.4 1638.3L633.8 1638.5L634.2 1638.7L634.6 1638.9L635.0 1639.1L635.4 1639.2L635.8 1639.3L636.2 1639.4L636.6 1639.5L637.0 1639.6L637.4 1639.7L637.8 1639.7L638.2 1639.7L638.6 1639.7L639.0 1639.7L639.4 1639.6L639.8 1639.5L640.2 1639.4L640.6 1639.3L641.0 1639.2L641.4 1639.0L641.8 1638.8L642.2 1638.7L642.6 1638.4L643.0 1638.2L643.4 1638.0L643.8 1637.7L644.2 1637.4L644.6 1637.1L645.0 1636.8L645.4 1636.5L645.8 1636.2L646.2 1635.8L646.6 1635.5L647.0 1635.1L647.4 1634.7L647.8 1634.3L648.2 1633.9L648.6 1633.5L649.0 1633.1L649.4 1632.7L649.8 1632.3L650.2 1631.8L650.6 1631.4L651.0 1631.0L651.4 1630.6L651.8 1630.2L652.2 1629.7L652.6 1629.3L653.0 1628.9L653.4 1628.5L653.8 1628.1L654.2 1627.7L654.6 1627.4L655.0 1627.0L655.4 1626.6L655.8 1626.3L656.2 1626.0L656.6 1625.6L657.0 1625.3L657.4 1625.1L657.8 1624.8L658.2 1624.5L658.6 1624.3L659.0 1624.0L659.4 1623.8L659.8 1623.6L660.2 1623.5L660.6 1623.3L661.0 1623.2L661.4 1623.1L661.8 1623.0L662.2 1622.9L662.6 1622.8L663.0 1622.7L663.4 1622.7L663.8 1622.7L664.2 1622.7L664.6 1622.7L665.0 1622.8L665.4 1622.8L665.8 1622.9L666.2 1623.0L666.6 1623.1L667.0 1623.2L667.4 1623.3L667.8 1623.4L668.2 1623.6L668.6 1623.8L669.0 1623.9L669.4 1624.1L669.8 1624.3L670.2 1624.5L670.6 1624.7L671.0 1625.0L671.4 1625.2L671.8 1625.5L672.2 1625.7L672.6 1626.0L673.0 1626.2L673.4 1626.5L673.8 1626.8L674.2 1627.1L674.6 1627.4L675.0 1627.7L675.4 1627.9L675.8 1628.2L676.2 1628.5L676.6 1628.8L677.0 1629.1L677.4 1629.4L677.8 1629.7L678.2 1630.0L678.6 1630.4L679.0 1630.7L679.4 1630.9L679.8 1631.2L680.2 1631.5L680.6 1631.8L681.0 1632.1L681.4 1632.4L681.8 1632.7L682.2 1632.9L682.6 1633.2L683.0 1633.5L683.4 1633.7L683.8 1634.0L684.2 1634.2L684.6 1634.4L685.0 1634.7L685.4 1634.9L685.8 1635.1L686.2 1635.3L686.6 1635.5L687.0 1635.6L687.4 1635.8L687.8 1636.0L688.2 1636.1L688.6 1636.2L689.0 1636.3L689.4 1636.4L689.8 1636.5L690.2 1636.6L690.6 1636.7L691.0 1636.7L691.4 1636.8L691.8 1636.8L692.2 1636.8L692.6 1636.8L693.0 1636.8L693.4 1636.8L693.8 1636.7L694.2 1636.6L694.6 1636.6L695.0 1636.5L695.4 1636.4L695.8 1636.3L696.2 1636.1L696.6 1636.0L697.0 1635.8L697.4 1635.6L697.8 1635.5L698.2 1635.3L698.6 1635.1L699.0 1634.8L699.4 1634.6L699.8 1634.4L700.2 1634.1L700.6 1633.9L701.0 1633.6L701.4 1633.3L701.8 1633.1L702.2 1632.8L702.6 1632.5L703.0 1632.2L703.4 1631.9L703.8 1631.6L704.2 1631.3L704.6 1631.0L705.0 1630.7L705.4 1630.4L705.8 1630.1L706.2 1629.8L706.6 1629.5L707.0 1629.2L707.4 1628.9L707.8 1628.6L708.2 1628.3L708.6 1628.0L709.0 1627.8L709.4 1627.5L709.8 1627.3L710.2 1627.0L710.6 1626.8L711.0 1626.6L711.4 1626.4L711.8 1626.2L712.2 1626.0L712.6 1625.8L713.0 1625.6L713.4 1625.5L713.8 1625.3L714.2 1625.2L714.6 1625.1L715.0 1625.0L715.4 1624.9L715.8 1624.8L716.2 1624.7L716.6 1624.7L717.0 1624.6L717.4 1624.6L717.8 1624.6L718.2 1624.6L718.6 1624.6L719.0 1624.6L719.4 1624.7L719.8 1624.7L720.2 1624.8L720.6 1624.9L721.0 1624.9L721.4 1625.0L721.8 1625.1L722.2 1625.2L722.6 1625.4L723.0 1625.5L723.4 1625.6L723.8 1625.8L724.2 1625.9L724.6 1626.1L725.0 1626.2L725.4 1626.4L725.8 1626.6L726.2 1626.8L726.6 1627.0L727.0 1627.2L727.4 1627.4L727.8 1627.6L728.2 1627.8L728.6 1628.0L729.0 1628.2L729.4 1628.4L729.8 1628.6L730.2 1628.8L730.6 1629.0L731.0 1629.2L731.4 1629.5L731.8 1629.7L732.2 1629.9L732.6 1630.1L733.0 1630.3L733.4 1630.5L733.8 1630.8L734.2 1631.0L734.6 1631.2L735.0 1631.4L735.4 1631.6L735.8 1631.8L736.2 1632.0L736.6 1632.2L737.0 1632.4L737.4 1632.5L737.8 1632.7L738.2 1632.9L738.6 1633.1L739.0 1633.2L739.4 1633.4L739.8 1633.5L740.2 1633.7L740.6 1633.8L741.0 1633.9L741.4 1634.0L741.8 1634.2L742.2 1634.3L742.6 1634.4L743.0 1634.4L743.4 1634.5L743.8 1634.6L744.2 1634.6L744.6 1634.7L745.0 1634.7L745.4 1634.8L745.8 1634.8L746.2 1634.8L746.6 1634.8L747.0 1634.8L747.4 1634.8L747.8 1634.7L748.2 1634.7L748.6 1634.7L749.0 1634.6L749.4 1634.5L749.8 1634.4L750.2 1634.4L750.6 1634.3L751.0 1634.2L751.4 1634.0L751.8 1633.9L752.2 1633.8L752.6 1633.6L753.0 1633.5L753.4 1633.3L753.8 1633.2L754.2 1633.0L754.6 1632.8L755.0 1632.7L755.4 1632.5L755.8 1632.3L756.2 1632.1L756.6 1631.9L757.0 1631.7L757.4 1631.5L757.8 1631.3L758.2 1631.1L758.6 1630.9L759.0 1630.7L759.4 1630.5L759.8 1630.3L760.2 1630.1L760.6 1629.9L761.0 1629.7L761.4 1629.5L761.8 1629.3L762.2 1629.1L762.6 1628.9L763.0 1628.7L763.4 1628.5L763.8 1628.4L764.2 1628.2L764.6 1628.1L765.0 1627.9L765.4 1627.8L765.8 1627.6L766.2 1627.5L766.6 1627.4L767.0 1627.3L767.4 1627.2L767.8 1627.1L768.2 1627.0L768.6 1626.9L769.0 1626.8L769.4 1626.8L769.8 1626.7L770.2 1626.7L770.6 1626.6L771.0 1626.6L771.4 1626.6L771.8 1626.6L772.2 1626.6L772.6 1626.6L773.0 1626.6L773.4 1626.6L773.8 1626.7L774.2 1626.7L774.6 1626.7L775.0 1626.8L775.4 1626.9L775.8 1626.9L776.2 1627.0L776.6 1627.1L777.0 1627.1L777.4 1627.2L777.8 1627.3L778.2 1627.4L778.6 1627.5L779.0 1627.6L779.4 1627.7L779.8 1627.9L780.2 1628.0L780.6 1628.1L781.0 1628.2L781.4 1628.4L781.8 1628.5L782.2 1628.6L782.6 1628.7L783.0 1628.9L783.4 1629.0L783.8 1629.2L784.2 1629.3L784.6 1629.4L785.0 1629.6L785.4 1629.7L785.8 1629.9L786.2 1630.0L786.6 1630.1L787.0 1630.3L787.4 1630.4L787.8 1630.6L788.2 1630.7L788.6 1630.8L789.0 1631.0L789.4 1631.1L789.8 1631.2L790.2 1631.4L790.6 1631.5L791.0 1631.6L791.4 1631.7L791.8 1631.8L792.2 1631.9L792.6 1632.1L793.0 1632.2L793.4 1632.3L793.8 1632.4L794.2 1632.4L794.6 1632.5L795.0 1632.6L795.4 1632.7L795.8 1632.8L796.2 1632.8L796.6 1632.9L797.0 1633.0L797.4 1633.0L797.8 1633.1L798.2 1633.1L798.6 1633.1L799.0 1633.2L799.4 1633.2L799.8 1633.2L800.2 1633.2L800.6 1633.2L801.0 1633.2L801.4 1633.2L801.8 1633.2L802.2 1633.1L802.6 1633.1L803.0 1633.1L803.4 1633.0L803.8 1633.0L804.2 1632.9L804.6 1632.9L805.0 1632.8L805.4 1632.7L805.8 1632.7L806.2 1632.6L806.6 1632.5L807.0 1632.4L807.4 1632.3L807.8 1632.2L808.2 1632.1L808.6 1632.0L809.0 1631.9L809.4 1631.8L809.8 1631.6L810.2 1631.5L810.6 1631.4L811.0 1631.3L811.4 1631.1L811.8 1631.0L812.2 1630.9L812.6 1630.8L813.0 1630.6L813.4 1630.5L813.8 1630.4L814.2 1630.2L814.6 1630.1L815.0 1630.0L815.4 1629.9L815.8 1629.7L816.2 1629.6L816.6 1629.5L817.0 1629.4L817.4 1629.3L817.8 1629.2L818.2 1629.1L818.6 1629.0L819.0 1628.9L819.4 1628.8L819.8 1628.7L820.2 1628.6L820.6 1628.5L821.0 1628.4L821.4 1628.4L821.8 1628.3L822.2 1628.3L822.6 1628.2L823.0 1628.2L823.4 1628.1L823.8 1628.1L824.2 1628.1L824.6 1628.0L825.0 1628.0L825.4 1628.0L825.8 1628.0L826.2 1628.0L826.6 1628.0L827.0 1628.0L827.4 1628.0L827.8 1628.0L828.2 1628.1L828.6 1628.1L829.0 1628.1L829.4 1628.1L829.8 1628.2L830.2 1628.2L830.6 1628.3L831.0 1628.3L831.4 1628.4L831.8 1628.4L832.2 1628.5L832.6 1628.6L833.0 1628.6L833.4 1628.7L833.8 1628.8L834.2 1628.8L834.6 1628.9L835.0 1629.0L835.4 1629.1L835.8 1629.1L836.2 1629.2L836.6 1629.3L837.0 1629.4L837.4 1629.5L837.8 1629.6L838.2 1629.6L838.6 1629.7L839.0 1629.8L839.4 1629.9L839.8 1630.0L840.2 1630.1L840.6 1630.2L841.0 1630.3L841.4 1630.3L841.8 1630.4L842.2 1630.5L842.6 1630.6L843.0 1630.7L843.4 1630.8L843.8 1630.8L844.2 1630.9L844.6 1631.0L845.0 1631.1L845.4 1631.2L845.8 1631.2L846.2 1631.3L846.6 1631.4L847.0 1631.4L847.4 1631.5L847.8 1631.6L848.2 1631.6L848.6 1631.7L849.0 1631.7L849.4 1631.8L849.8 1631.8L850.2 1631.9L850.6 1631.9L851.0 1631.9L851.4 1632.0L851.8 1632.0L852.2 1632.0L852.6 1632.0L853.0 1632.1L853.4 1632.1L853.8 1632.1L854.2 1632.1L854.6 1632.1L855.0 1632.1L855.4 1632.1L855.8 1632.1L856.2 1632.1L856.6 1632.1L857.0 1632.0L857.4 1632.0L857.8 1632.0L858.2 1632.0L858.6 1631.9L859.0 1631.9L859.4 1631.8L859.8 1631.8L860.2 1631.8L860.6 1631.7L861.0 1631.6L861.4 1631.6L861.8 1631.5L862.2 1631.5L862.6 1631.4L863.0 1631.3L863.4 1631.3L863.8 1631.2L864.2 1631.1L864.6 1631.0L865.0 1631.0L865.4 1630.9L865.8 1630.8L866.2 1630.7L866.6 1630.6L867.0 1630.6L867.4 1630.5L867.8 1630.4L868.2 1630.3L868.6 1630.2L869.0 1630.2L869.4 1630.1L869.8 1630.0L870.2 1629.9L870.6 1629.9L871.0 1629.8L871.4 1629.7L871.8 1629.6L872.2 1629.6L872.6 1629.5L873.0 1629.5L873.4 1629.4L873.8 1629.3L874.2 1629.3L874.6 1629.2L875.0 1629.2L875.4 1629.2L875.8 1629.1L876.2 1629.1L876.6 1629.0L877.0 1629.0L877.4 1629.0L877.8 1629.0L878.2 1628.9L878.6 1628.9L879.0 1628.9L879.4 1628.9L879.8 1628.9L880.2 1628.9L880.6 1628.9L881.0 1628.9L881.4 1628.9L881.8 1628.9L882.2 1628.9L882.6 1628.9L883.0 1629.0L883.4 1629.0L883.8 1629.0L884.2 1629.0L884.6 1629.1L885.0 1629.1L885.4 1629.1L885.8 1629.2L886.2 1629.2L886.6 1629.2L887.0 1629.3L887.4 1629.3L887.8 1629.4L888.2 1629.4L888.6 1629.4L889.0 1629.5L889.4 1629.5L889.8 1629.6L890.2 1629.6L890.6 1629.7L891.0 1629.8L891.4 1629.8L891.8 1629.9L892.2 1629.9L892.6 1630.0L893.0 1630.0L893.4 1630.1L893.8 1630.1L894.2 1630.2L894.6 1630.2L895.0 1630.3L895.4 1630.4L895.8 1630.4L896.2 1630.5L896.6 1630.5L897.0 1630.6L897.4 1630.6L897.8 1630.7L898.2 1630.7L898.6 1630.8L899.0 1630.8L899.4 1630.9L899.8 1630.9L900.2 1631.0L900.6 1631.0L901.0 1631.0L901.4 1631.1L901.8 1631.1L902.2 1631.2L902.6 1631.2L903.0 1631.2L903.4 1631.3L903.8 1631.3L904.2 1631.3L904.6 1631.4L905.0 1631.4L905.4 1631.4L905.8 1631.4L906.2 1631.4L906.6 1631.5L907.0 1631.5L907.4 1631.5L907.8 1631.5L908.2 1631.5L908.6 1631.5L909.0 1631.5L909.4 1631.5L909.8 1631.5L910.2 1631.5L910.6 1631.5L911.0 1631.5L911.4 1631.5L911.8 1631.4L912.2 1631.4L912.6 1631.4L913.0 1631.4L913.4 1631.4L913.8 1631.3L914.2 1631.3L914.6 1631.3L915.0 1631.2L915.4 1631.2L915.8 1631.2L916.2 1631.1L916.6 1631.1L917.0 1631.0L917.4 1631.0L917.8 1631.0L918.2 1630.9L918.6 1630.9L919.0 1630.8L919.4 1630.8L919.8 1630.7L920.2 1630.7L920.6 1630.6L921.0 1630.6L921.4 1630.5L921.8 1630.5L922.2 1630.4L922.6 1630.4L923.0 1630.3L923.4 1630.3L923.8 1630.2L924.2 1630.2L924.6 1630.1L925.0 1630.1L925.4 1630.0L925.8 1630.0L926.2 1630.0L926.6 1629.9L927.0 1629.9L927.4 1629.8L927.8 1629.8L928.2 1629.8L928.6 1629.7L929.0 1629.7L929.4 1629.7L929.8 1629.6L930.2 1629.6L930.6 1629.6L931.0 1629.6L931.4 1629.6L931.8 1629.5L932.2 1629.5L932.6 1629.5L933.0 1629.5L933.4 1629.5L933.8 1629.5L934.2 1629.5L934.6 1629.5L935.0 1629.5L935.4 1629.5L935.8 1629.5L936.2 1629.5L936.6 1629.5L937.0 1629.5L937.4 1629.5L937.8 1629.6L938.2 1629.6L938.6 1629.6L939.0 1629.6L939.4 1629.6L939.8 1629.7L940.2 1629.7L940.6 1629.7L941.0 1629.7L941.4 1629.8L941.8 1629.8L942.2 1629.8L942.6 1629.8L943.0 1629.9L943.4 1629.9L943.8 1629.9L944.2 1630.0L944.6 1630.0L945.0 1630.0L945.4 1630.1L945.8 1630.1L946.2 1630.1L946.6 1630.2L947.0 1630.2L947.4 1630.2L947.8 1630.3L948.2 1630.3L948.6 1630.4L949.0 1630.4L949.4 1630.4L949.8 1630.5L950.2 1630.5L950.6 1630.5L951.0 1630.6L951.4 1630.6L951.8 1630.6L952.2 1630.7L952.6 1630.7L953.0 1630.7L953.4 1630.8L953.8 1630.8L954.2 1630.8L954.6 1630.9L955.0 1630.9L955.4 1630.9L955.8 1630.9L956.2 1631.0L956.6 1631.0L957.0 1631.0L957.4 1631.0L957.8 1631.1L958.2 1631.1L958.6 1631.1L959.0 1631.1L959.4 1631.1L959.8 1631.1L960.2 1631.2L960.6 1631.2L961.0 1631.2L961.4 1631.2L961.8 1631.2L962.2 1631.2L962.6 1631.2L963.0 1631.2L963.4 1631.2L963.8 1631.2L964.2 1631.2L964.6 1631.2L965.0 1631.2L965.4 1631.2L965.8 1631.2L966.2 1631.2L966.6 1631.1L967.0 1631.1L967.4 1631.1L967.8 1631.1L968.2 1631.1L968.6 1631.1L969.0 1631.0L969.4 1631.0L969.8 1631.0L970.2 1631.0L970.6 1630.9L971.0 1630.9L971.4 1630.9L971.8 1630.9L972.2 1630.8L972.6 1630.8L973.0 1630.8L973.4 1630.7L973.8 1630.7L974.2 1630.7L974.6 1630.6L975.0 1630.6" fill="none" stroke="#dc4506" stroke-width="6.0" stroke-linejoin="round"/>
<text x="240.0" y="1520.5" font-size="63.0" text-anchor="end">0.02</text>
<text x="240.0" y="1680.5" font-size="63.0" text-anchor="end">0.01</text>
<text x="345.8" y="1842.0" font-size="63.0" text-anchor="middle">0.2</text>
<text x="503.2" y="1842.0" font-size="63.0" text-anchor="middle">0.4</text>
<text x="660.6" y="1842.0" font-size="63.0" text-anchor="middle">0.6</text>
<text x="818.0" y="1842.0" font-size="63.0" text-anchor="middle">0.8</text>
<text x="284.0" y="1495.5" font-size="63.0" text-anchor="start">(b3)</text>
<text x="621.5" y="1927.0" font-size="71.0" text-anchor="middle">Time(ns)</text>
<rect x="1263.5" y="568.0" width="694.7" height="326.5" fill="#fff" stroke="#303030" stroke-width="4.6"/>
<path d="M1340.0 894.5 v-6.8 M1340.0 568.0 v6.8M1494.5 894.5 v-6.8 M1494.5 568.0 v6.8M1649.0 894.5 v-6.8 M1649.0 568.0 v6.8M1803.5 894.5 v-6.8 M1803.5 568.0 v6.8M1263.5 649.0 h6.8 M1958.2 649.0 h-6.8M1263.5 731.3 h6.8 M1958.2 731.3 h-6.8M1263.5 812.7 h6.8 M1958.2 812.7 h-6.8" stroke="#303030" stroke-width="4" fill="none"/>
<path d="M1698.7 649.6C1686.5 649.5 1650.0 649.1 1625.6 648.8C1601.2 648.6 1576.9 648.3 1552.5 648.1C1528.1 647.9 1498.9 647.7 1479.4 647.7C1459.9 647.8 1447.7 647.9 1435.5 648.5C1423.3 649.1 1415.4 649.8 1406.2 651.4C1397.1 653.0 1388.6 655.2 1380.6 658.0C1372.7 660.7 1365.7 663.5 1358.7 667.9C1351.7 672.2 1344.1 678.5 1338.6 684.3C1333.1 690.1 1328.9 696.5 1325.8 702.6C1322.8 708.7 1320.8 714.2 1320.3 720.9C1319.8 727.6 1320.6 735.5 1322.9 742.8C1325.2 750.1 1328.6 757.1 1334.2 764.7C1339.9 772.4 1347.9 780.6 1356.9 788.5C1365.8 796.4 1375.8 804.2 1388.0 812.3C1400.1 820.3 1414.8 829.7 1430.0 836.8C1445.2 843.8 1461.4 849.6 1479.4 854.7C1497.3 859.7 1518.4 864.2 1537.9 867.1C1557.4 870.0 1576.9 870.9 1596.4 871.9C1615.9 872.8 1635.4 873.1 1654.9 872.6C1674.3 872.1 1693.8 871.2 1713.3 868.9C1732.8 866.7 1753.6 863.1 1771.8 859.1C1790.1 855.0 1807.2 850.1 1823.0 844.4C1838.9 838.8 1854.1 832.3 1866.9 825.1C1879.7 817.9 1890.4 810.1 1899.8 801.3C1909.2 792.5 1917.6 781.8 1923.6 772.0C1929.5 762.3 1933.4 751.9 1935.6 742.8C1937.9 733.7 1937.9 725.7 1937.1 717.2C1936.3 708.7 1934.7 700.1 1930.9 691.6C1927.1 683.1 1921.4 673.8 1914.4 666.0C1907.4 658.2 1898.6 651.3 1888.8 644.8C1879.1 638.4 1868.1 632.4 1855.9 627.3C1843.7 622.2 1829.7 617.6 1815.7 614.1C1801.7 610.6 1786.5 607.9 1771.8 606.1C1757.2 604.2 1742.6 603.4 1728.0 603.1C1713.3 602.8 1698.7 603.1 1684.1 604.2C1669.5 605.4 1654.2 607.3 1640.2 610.1C1626.2 612.8 1612.8 616.4 1600.0 620.7C1587.2 625.0 1575.0 630.1 1563.5 635.7C1551.9 641.3 1539.7 647.7 1530.5 654.3C1521.4 660.9 1514.7 668.3 1508.6 675.2C1502.5 682.0 1497.8 688.3 1494.0 695.3C1490.2 702.3 1487.2 710.5 1485.9 717.2C1484.7 723.9 1485.3 729.4 1486.7 735.5C1488.0 741.6 1490.3 747.7 1494.0 753.8C1497.6 759.9 1502.5 766.6 1508.6 772.0C1514.7 777.5 1522.0 782.4 1530.5 786.7C1539.1 790.9 1545.1 794.7 1559.8 797.6C1574.5 800.6 1604.6 803.2 1618.7 804.2C1632.7 805.2 1636.4 804.2 1644.3 803.8C1652.2 803.4 1659.9 802.7 1666.2 801.9C1672.6 801.0 1677.2 799.9 1682.1 798.7C1687.1 797.6 1691.9 796.4 1696.2 795.0C1700.5 793.6 1704.5 792.1 1708.0 790.4C1711.5 788.7 1714.6 786.8 1717.2 784.7C1719.7 782.6 1721.8 780.4 1723.3 777.8C1724.8 775.3 1726.2 772.3 1726.3 769.6C1726.4 766.9 1725.5 764.2 1723.9 761.5C1722.3 758.8 1719.7 756.2 1716.6 753.6C1713.5 751.0 1709.6 748.1 1705.4 745.8C1701.2 743.4 1696.4 741.2 1691.2 739.6C1686.1 737.9 1680.3 736.7 1674.5 735.6C1668.8 734.6 1662.9 733.8 1656.8 733.3C1650.6 732.8 1644.4 732.6 1637.5 732.5C1630.5 732.5 1622.7 732.6 1615.0 733.1C1607.4 733.6 1599.5 734.3 1591.7 735.3C1583.9 736.4 1575.6 737.7 1568.2 739.3C1560.8 741.0 1553.8 743.0 1547.4 745.1C1541.0 747.2 1534.8 749.8 1530.1 752.0C1525.3 754.1 1521.9 756.0 1518.7 758.0C1515.5 760.0 1513.1 762.0 1511.0 763.9C1508.9 765.9 1506.8 767.9 1506.2 769.9C1505.7 771.8 1506.1 773.7 1507.5 775.8C1508.8 777.9 1511.2 779.7 1514.5 782.2C1517.7 784.8 1522.1 788.0 1527.0 790.8C1532.0 793.6 1537.7 796.5 1543.9 799.0C1550.1 801.5 1556.8 803.9 1564.4 805.8C1572.1 807.7 1580.8 809.3 1589.8 810.5C1598.8 811.7 1608.8 812.6 1618.5 812.9C1628.1 813.1 1638.6 812.6 1647.6 812.0C1656.6 811.4 1665.3 810.4 1672.3 809.3C1679.4 808.2 1684.5 806.7 1690.1 805.2C1695.6 803.7 1700.9 802.1 1705.6 800.3C1710.4 798.6 1714.8 796.7 1718.6 794.6C1722.4 792.5 1725.7 790.1 1728.5 787.6C1731.2 785.0 1733.4 782.2 1734.9 779.2C1736.5 776.2 1737.9 772.6 1737.9 769.4C1737.9 766.1 1736.7 762.9 1734.8 759.7C1732.9 756.6 1730.0 753.5 1726.5 750.5C1723.0 747.4 1718.6 744.1 1713.9 741.4C1709.1 738.7 1703.8 736.2 1698.1 734.3C1692.4 732.4 1685.9 731.1 1679.6 729.9C1673.2 728.8 1666.8 728.0 1660.1 727.4C1653.3 726.9 1646.6 726.7 1639.0 726.7C1631.4 726.7 1622.9 727.0 1614.6 727.6C1606.3 728.2 1597.8 729.1 1589.4 730.3C1580.9 731.5 1572.0 733.1 1564.1 735.0C1556.1 736.9 1548.6 739.3 1541.8 741.7C1535.0 744.1 1528.4 747.1 1523.3 749.5C1518.2 752.0 1514.6 754.2 1511.3 756.4C1508.0 758.7 1505.4 760.9 1503.3 763.1C1501.2 765.3 1499.0 767.5 1498.4 769.7C1497.9 771.9 1498.4 774.0 1500.0 776.3C1501.5 778.6 1504.1 780.7 1507.6 783.5C1511.2 786.2 1515.9 789.9 1521.2 792.9C1526.5 796.0 1532.6 799.2 1539.3 801.9C1545.9 804.6 1553.0 807.2 1561.1 809.2C1569.3 811.3 1578.5 813.0 1588.1 814.3C1597.6 815.5 1608.2 816.5 1618.4 816.8C1628.5 817.0 1639.6 816.4 1649.1 815.7C1658.6 815.0 1667.7 813.9 1675.1 812.6C1682.5 811.4 1687.9 809.7 1693.7 808.1C1699.5 806.4 1704.9 804.7 1709.9 802.7C1714.8 800.8 1719.4 798.8 1723.3 796.5C1727.3 794.1 1730.7 791.6 1733.5 788.9C1736.3 786.1 1738.6 783.1 1740.2 779.8C1741.7 776.6 1743.1 772.7 1743.1 769.2C1743.0 765.8 1741.8 762.3 1739.8 759.0C1737.7 755.6 1734.6 752.3 1730.9 749.1C1727.2 745.8 1722.6 742.3 1717.7 739.5C1712.7 736.6 1707.1 734.0 1701.2 731.9C1695.2 729.9 1688.5 728.6 1681.9 727.4C1675.3 726.2 1668.6 725.3 1661.6 724.8C1654.5 724.2 1647.5 724.1 1639.7 724.1C1631.8 724.2 1623.0 724.4 1614.4 725.1C1605.9 725.7 1597.0 726.7 1588.3 728.0C1579.6 729.4 1570.4 731.1 1562.2 733.1C1554.0 735.1 1546.2 737.6 1539.2 740.2C1532.2 742.7 1525.5 745.9 1520.3 748.5C1515.0 751.0 1511.4 753.3 1508.0 755.7C1504.6 758.1 1502.0 760.4 1499.8 762.7C1497.6 765.1 1495.4 767.4 1494.9 769.7C1494.4 772.0 1495.0 774.2 1496.6 776.6C1498.2 779.0 1500.9 781.1 1504.6 784.0C1508.2 786.9 1513.1 790.7 1518.6 793.9C1524.0 797.1 1530.3 800.4 1537.2 803.2C1544.0 806.0 1551.3 808.6 1559.6 810.8C1568.0 812.9 1577.5 814.7 1587.3 816.0C1597.1 817.3 1607.9 818.3 1618.3 818.5C1628.7 818.7 1640.1 818.1 1649.8 817.4C1659.4 816.7 1668.8 815.5 1676.3 814.2C1683.9 812.8 1689.4 811.1 1695.3 809.4C1701.2 807.7 1706.8 805.8 1711.8 803.8C1716.8 801.8 1721.5 799.7 1725.5 797.3C1729.5 794.9 1733.0 792.3 1735.8 789.4C1738.7 786.6 1740.9 783.5 1742.5 780.1C1744.1 776.7 1745.5 772.8 1745.4 769.2C1745.3 765.6 1744.1 762.1 1742.0 758.6C1739.9 755.1 1736.7 751.8 1732.9 748.4C1729.1 745.1 1724.5 741.5 1719.4 738.6C1714.3 735.6 1708.6 732.9 1702.5 730.9C1696.5 728.8 1689.6 727.4 1682.9 726.2C1676.2 725.0 1669.4 724.1 1662.2 723.6C1655.1 723.0 1648.0 722.9 1640.0 722.9C1632.0 723.0 1623.0 723.3 1614.3 724.0C1605.6 724.7 1596.7 725.6 1587.8 727.0C1579.0 728.4 1569.7 730.1 1561.4 732.2C1553.1 734.3 1545.2 736.9 1538.1 739.5C1531.0 742.1 1524.1 745.3 1518.9 748.0C1513.6 750.6 1509.9 752.9 1506.5 755.4C1503.0 757.8 1500.4 760.2 1498.3 762.6C1496.1 764.9 1493.8 767.3 1493.3 769.6C1492.8 772.0 1493.4 774.3 1495.1 776.7C1496.7 779.1 1499.4 781.3 1503.2 784.3C1506.9 787.2 1511.9 791.1 1517.4 794.3C1522.9 797.5 1529.3 800.9 1536.2 803.7C1543.1 806.6 1550.5 809.3 1559.0 811.5C1567.4 813.6 1577.1 815.4 1586.9 816.7C1596.8 818.0 1607.8 819.1 1618.3 819.3C1628.8 819.5 1640.3 818.9 1650.1 818.1C1659.8 817.4 1669.2 816.2 1676.9 814.8C1684.6 813.5 1690.1 811.7 1696.0 810.0C1702.0 808.2 1707.6 806.4 1712.7 804.3C1717.7 802.3 1722.4 800.1 1726.4 797.7C1730.5 795.3 1734.0 792.6 1736.9 789.7C1739.7 786.8 1742.0 783.7 1743.6 780.2C1745.2 776.8 1746.6 772.8 1746.5 769.2C1746.4 765.5 1745.1 761.9 1743.0 758.4C1740.9 754.9 1737.6 751.5 1733.8 748.2C1730.0 744.8 1725.3 741.1 1720.2 738.2C1715.1 735.2 1709.3 732.5 1703.2 730.4C1697.0 728.3 1690.1 726.9 1683.4 725.7C1676.6 724.5 1669.7 723.6 1662.5 723.1C1655.3 722.5 1648.2 722.3 1640.1 722.4C1632.1 722.5 1623.0 722.8 1614.3 723.5C1605.5 724.2 1596.5 725.2 1587.6 726.6C1578.7 728.0 1569.3 729.7 1561.0 731.8C1552.6 733.9 1544.7 736.5 1537.6 739.2C1530.4 741.8 1523.6 745.1 1518.3 747.7C1513.0 750.4 1509.2 752.8 1505.8 755.2C1502.3 757.7 1499.7 760.1 1497.5 762.5C1495.4 764.9 1493.1 767.3 1492.6 769.6C1492.1 772.0 1492.7 774.3 1494.4 776.7C1496.0 779.2 1498.8 781.4 1502.5 784.4C1506.3 787.3 1511.3 791.2 1516.8 794.5C1522.4 797.8 1528.8 801.1 1535.8 804.0C1542.8 806.9 1550.2 809.6 1558.7 811.8C1567.2 814.0 1576.9 815.8 1586.8 817.1C1596.7 818.4 1607.7 819.4 1618.3 819.7C1628.9 819.9 1640.4 819.2 1650.2 818.5C1660.0 817.7 1669.5 816.5 1677.1 815.1C1684.8 813.8 1690.4 812.0 1696.3 810.2C1702.3 808.5 1707.9 806.6 1713.0 804.5C1718.1 802.5 1722.8 800.3 1726.9 797.9C1730.9 795.4 1734.5 792.7 1737.3 789.8C1740.2 786.9 1742.4 783.7 1744.1 780.3C1745.7 776.8 1747.1 772.8 1747.0 769.2C1746.9 765.5 1745.6 761.9 1743.4 758.4C1741.3 754.8 1738.0 751.4 1734.2 748.0C1730.4 744.6 1725.7 741.0 1720.5 738.0C1715.4 735.0 1709.6 732.3 1703.5 730.2C1697.3 728.1 1690.4 726.7 1683.6 725.5C1676.8 724.2 1669.9 723.4 1662.7 722.8C1655.4 722.3 1648.2 722.1 1640.2 722.2C1632.1 722.2 1623.0 722.5 1614.3 723.2C1605.5 723.9 1596.4 725.0 1587.5 726.4C1578.6 727.8 1569.2 729.5 1560.8 731.6C1552.4 733.7 1544.5 736.4 1537.3 739.0C1530.2 741.7 1523.3 744.9 1518.0 747.6C1512.7 750.3 1508.9 752.7 1505.5 755.2C1502.0 757.6 1499.4 760.0 1497.2 762.4C1495.0 764.9 1492.8 767.2 1492.3 769.6C1491.7 772.0 1492.4 774.3 1494.1 776.8C1495.7 779.2 1498.5 781.5 1502.3 784.4C1506.0 787.4 1511.1 791.3 1516.6 794.6C1522.2 797.9 1528.6 801.2 1535.6 804.1C1542.6 807.0 1550.0 809.7 1558.5 811.9C1567.1 814.1 1576.8 815.9 1586.7 817.2C1596.7 818.6 1607.7 819.6 1618.3 819.8C1628.9 820.0 1640.4 819.4 1650.3 818.6C1660.1 817.9 1669.6 816.7 1677.3 815.3C1685.0 813.9 1690.5 812.1 1696.5 810.4C1702.5 808.6 1708.1 806.7 1713.2 804.6C1718.3 802.6 1723.0 800.4 1727.1 797.9C1731.1 795.5 1734.7 792.8 1737.5 789.9C1740.4 786.9 1742.7 783.8 1744.3 780.3C1745.9 776.9 1747.3 772.8 1747.2 769.1C1747.1 765.5 1745.8 761.9 1743.7 758.3C1741.5 754.8 1738.2 751.4 1734.4 748.0C1730.6 744.6 1725.8 740.9 1720.7 737.9C1715.5 734.9 1709.8 732.2 1703.6 730.1C1697.4 728.0 1690.5 726.6 1683.7 725.4C1676.8 724.1 1670.0 723.3 1662.7 722.7C1655.5 722.2 1648.3 722.0 1640.2 722.1C1632.1 722.1 1623.0 722.4 1614.3 723.1C1605.5 723.8 1596.4 724.9 1587.5 726.3C1578.5 727.7 1569.1 729.4 1560.7 731.6C1552.4 733.7 1544.4 736.3 1537.2 739.0C1530.1 741.6 1523.2 744.9 1517.9 747.6C1512.5 750.3 1508.8 752.7 1505.3 755.1C1501.9 757.6 1499.3 760.0 1497.1 762.4C1494.9 764.8 1492.7 767.2 1492.1 769.6C1491.6 772.0 1492.3 774.3 1493.9 776.8C1495.6 779.2 1498.4 781.5 1502.1 784.5C1505.9 787.4 1510.9 791.3 1516.5 794.6C1522.1 797.9 1528.5 801.3 1535.5 804.2C1542.5 807.1 1549.9 809.8 1558.5 812.0C1567.0 814.2 1576.7 816.0 1586.7 817.3C1596.7 818.6 1607.7 819.7 1618.3 819.9C1628.9 820.1 1640.5 819.5 1650.3 818.7C1660.1 817.9 1669.6 816.7 1677.3 815.3C1685.0 814.0 1690.6 812.2 1696.6 810.4C1702.5 808.6 1708.2 806.8 1713.3 804.7C1718.4 802.6 1723.1 800.4 1727.2 798.0C1731.2 795.5 1734.8 792.8 1737.6 789.9C1740.5 787.0 1742.8 783.8 1744.4 780.3C1746.0 776.9 1747.4 772.8 1747.3 769.1C1747.2 765.5 1745.9 761.9 1743.7 758.3C1741.6 754.8 1738.3 751.3 1734.5 747.9C1730.7 744.5 1725.9 740.9 1720.8 737.9C1715.6 734.9 1709.8 732.1 1703.6 730.0C1697.5 727.9 1690.5 726.5 1683.7 725.3C1676.9 724.1 1670.0 723.2 1662.8 722.7C1655.5 722.1 1648.3 721.9 1640.2 722.0C1632.1 722.1 1623.1 722.4 1614.3 723.1C1605.5 723.8 1596.4 724.8 1587.4 726.2C1578.5 727.6 1569.1 729.4 1560.7 731.5C1552.3 733.6 1544.3 736.3 1537.2 738.9C1530.0 741.6 1523.1 744.9 1517.8 747.6C1512.5 750.3 1508.7 752.6 1505.3 755.1C1501.8 757.6 1499.2 760.0 1497.0 762.4C1494.8 764.8 1492.6 767.2 1492.1 769.6C1491.5 772.0 1492.2 774.3 1493.9 776.8C1495.5 779.3 1498.3 781.5 1502.1 784.5C1505.8 787.4 1510.9 791.3 1516.5 794.6C1522.0 797.9 1528.5 801.3 1535.5 804.2C1542.5 807.1 1549.9 809.8 1558.4 812.0C1567.0 814.2 1576.7 816.0 1586.7 817.3C1596.6 818.7 1607.7 819.7 1618.3 819.9C1628.9 820.1 1640.5 819.5 1650.3 818.7C1660.1 818.0 1669.6 816.7 1677.3 815.4C1685.0 814.0 1690.6 812.2 1696.6 810.4C1702.6 808.7 1708.2 806.8 1713.3 804.7C1718.4 802.6 1723.2 800.5 1727.2 798.0C1731.3 795.5 1734.8 792.9 1737.7 789.9C1740.5 787.0 1742.8 783.8 1744.4 780.3C1746.0 776.9 1746.8 771.0 1747.3 769.1" fill="none" stroke="#067a06" stroke-width="6.6" stroke-linecap="butt" stroke-linejoin="round"/>
<text x="1237.0" y="673.5" font-size="63.0" text-anchor="end">0</text>
<text x="1237.0" y="755.5" font-size="63.0" text-anchor="end"><tspan font-size="71.8" dy="2.6">−</tspan><tspan dy="-2.6">0.2</tspan></text>
<text x="1237.0" y="837.0" font-size="63.0" text-anchor="end"><tspan font-size="71.8" dy="2.6">−</tspan><tspan dy="-2.6">0.4</tspan></text>
<text x="1237.0" y="918.5" font-size="63.0" text-anchor="end"><tspan font-size="71.8" dy="2.6">−</tspan><tspan dy="-2.6">0.6</tspan></text>
<text x="1340.0" y="980.0" font-size="63.0" text-anchor="middle">0.2</text>
<text x="1494.5" y="980.0" font-size="63.0" text-anchor="middle">0.4</text>
<text x="1649.0" y="980.0" font-size="63.0" text-anchor="middle">0.6</text>
<text x="1803.5" y="980.0" font-size="63.0" text-anchor="middle">0.8</text>
<text x="1275.5" y="631.0" font-size="63.0" text-anchor="start">(c1)</text>
<rect x="1263.8" y="1004.0" width="688.2" height="318.0" fill="#fff" stroke="#303030" stroke-width="4.6"/>
<path d="M1608.0 1322.0 v-6.8 M1608.0 1004.0 v6.8M1263.8 1043.2 h6.8 M1952.0 1043.2 h-6.8M1263.8 1122.7 h6.8 M1952.0 1122.7 h-6.8M1263.8 1202.3 h6.8 M1952.0 1202.3 h-6.8M1263.8 1281.5 h6.8 M1952.0 1281.5 h-6.8" stroke="#303030" stroke-width="4" fill="none"/>
<ellipse cx="1598.5" cy="1205.8" rx="92.1" ry="40.6" fill="#067a06"/>
<path d="M1733.5 1043.1C1721.6 1043.0 1686.2 1042.8 1662.2 1042.4C1638.1 1042.0 1613.4 1041.4 1589.0 1040.9C1564.7 1040.5 1536.6 1039.7 1515.9 1039.5C1495.2 1039.2 1480.0 1038.9 1464.7 1039.5C1449.5 1040.1 1436.1 1041.3 1424.5 1043.1C1412.9 1045.0 1404.4 1047.6 1395.3 1050.5C1386.1 1053.3 1377.6 1056.2 1369.7 1060.3C1361.8 1064.4 1354.0 1070.1 1347.7 1074.9C1341.5 1079.8 1336.5 1084.4 1332.4 1089.6C1328.2 1094.8 1325.2 1100.1 1322.9 1106.0C1320.6 1112.0 1318.7 1118.1 1318.5 1125.4C1318.3 1132.7 1319.0 1141.8 1321.4 1149.9C1323.9 1158.0 1328.1 1166.2 1333.1 1174.0C1338.1 1181.8 1343.5 1188.8 1351.4 1196.7C1359.3 1204.6 1369.1 1213.3 1380.6 1221.6C1392.2 1229.8 1407.2 1239.0 1420.9 1246.4C1434.6 1253.8 1445.8 1259.8 1462.9 1265.8C1480.0 1271.8 1502.2 1278.1 1523.2 1282.6C1544.3 1287.1 1568.3 1290.9 1589.0 1292.8C1609.8 1294.8 1629.3 1294.7 1647.5 1294.3C1665.8 1293.9 1681.7 1292.8 1698.7 1290.7C1715.8 1288.5 1733.5 1285.4 1749.9 1281.5C1766.4 1277.7 1782.8 1272.8 1797.4 1267.6C1812.1 1262.4 1825.5 1257.0 1837.7 1250.4C1849.8 1243.9 1861.4 1236.1 1870.6 1228.5C1879.7 1220.9 1886.9 1213.0 1892.5 1204.7C1898.1 1196.5 1901.9 1187.7 1904.2 1179.1C1906.5 1170.6 1907.4 1162.1 1906.4 1153.6C1905.3 1145.0 1902.1 1135.9 1898.0 1128.0C1893.8 1120.0 1888.5 1112.8 1881.5 1106.0C1874.5 1099.2 1865.7 1092.6 1855.9 1087.0C1846.2 1081.4 1834.6 1076.4 1823.0 1072.4C1811.5 1068.4 1799.3 1065.1 1786.5 1062.9C1773.7 1060.7 1759.7 1059.7 1746.3 1059.2C1732.8 1058.8 1719.4 1059.1 1706.0 1060.3C1692.6 1061.5 1679.2 1063.7 1665.8 1066.5C1652.4 1069.4 1639.0 1073.1 1625.6 1077.5C1612.2 1082.0 1598.8 1087.6 1585.4 1093.2C1572.0 1098.9 1557.4 1105.4 1545.2 1111.5C1533.0 1117.6 1522.0 1124.0 1512.3 1129.8C1502.5 1135.6 1493.7 1141.1 1486.7 1146.2C1479.7 1151.4 1474.3 1156.0 1470.2 1160.9C1466.1 1165.7 1463.6 1170.6 1462.2 1175.5C1460.8 1180.4 1460.5 1184.9 1461.8 1190.1C1463.2 1195.3 1466.1 1201.4 1470.2 1206.6C1474.4 1211.7 1479.7 1216.6 1486.7 1221.2C1493.7 1225.8 1502.5 1230.3 1512.3 1234.0C1522.0 1237.6 1533.6 1240.8 1545.2 1243.1C1556.7 1245.4 1569.5 1247.0 1581.7 1247.9C1593.9 1248.8 1606.1 1249.1 1618.3 1248.6C1630.5 1248.1 1643.3 1246.8 1654.9 1245.0C1666.4 1243.1 1678.0 1241.0 1687.8 1237.6C1697.5 1234.3 1706.3 1229.4 1713.3 1224.8C1720.4 1220.3 1726.4 1215.1 1729.8 1210.2C1733.2 1205.3 1733.8 1200.5 1733.5 1195.6C1733.2 1190.7 1731.3 1185.5 1728.0 1181.0C1724.6 1176.4 1720.0 1171.8 1713.3 1168.2C1706.6 1164.5 1697.5 1161.5 1687.8 1159.0C1678.0 1156.6 1666.4 1154.8 1654.9 1153.6C1643.3 1152.3 1630.5 1151.7 1618.3 1151.7C1606.1 1151.7 1593.9 1152.3 1581.7 1153.6C1569.5 1154.8 1556.1 1156.6 1545.2 1159.0C1534.2 1161.5 1524.5 1164.5 1515.9 1168.2C1507.4 1171.8 1498.7 1176.2 1494.0 1181.0C1489.3 1185.8 1487.6 1192.5 1487.6 1196.8C1487.5 1201.2 1490.8 1203.7 1493.5 1207.1C1496.3 1210.6 1499.9 1214.1 1504.1 1217.5C1508.4 1220.8 1513.4 1224.2 1518.9 1227.3C1524.4 1230.3 1530.6 1233.3 1537.2 1235.8C1543.7 1238.3 1550.8 1240.6 1558.1 1242.3C1565.4 1244.1 1573.1 1245.4 1580.8 1246.3C1588.5 1247.1 1596.5 1247.5 1604.3 1247.3C1612.1 1247.1 1620.0 1246.4 1627.5 1245.3C1635.0 1244.1 1642.5 1242.5 1649.5 1240.5C1656.4 1238.5 1663.1 1236.0 1669.2 1233.4C1675.2 1230.7 1680.9 1227.7 1685.8 1224.6C1690.7 1221.5 1695.1 1218.1 1698.6 1214.8C1702.2 1211.6 1705.1 1208.1 1707.1 1204.9C1709.2 1201.6 1710.5 1198.3 1711.0 1195.3C1711.4 1192.2 1711.0 1189.3 1709.8 1186.5C1708.5 1183.8 1706.5 1181.2 1703.7 1178.9C1701.0 1176.5 1697.4 1174.4 1693.2 1172.5C1689.1 1170.6 1684.1 1168.9 1678.8 1167.5C1673.4 1166.0 1667.4 1164.7 1661.0 1163.7C1654.7 1162.7 1647.8 1161.8 1640.8 1161.2C1633.8 1160.5 1626.4 1160.1 1619.0 1159.8C1611.7 1159.6 1604.0 1159.5 1596.6 1159.6C1589.2 1159.7 1581.7 1160.0 1574.6 1160.5C1567.5 1161.0 1560.4 1161.7 1553.9 1162.5C1547.3 1163.4 1541.0 1164.4 1535.4 1165.7C1529.7 1167.0 1524.4 1168.4 1519.9 1170.1C1515.3 1171.8 1511.3 1173.7 1508.0 1175.8C1504.8 1177.9 1502.1 1180.2 1500.3 1182.7C1498.5 1185.2 1497.4 1187.9 1497.0 1190.8C1496.6 1193.6 1497.0 1196.7 1498.1 1199.8C1499.2 1202.9 1501.0 1206.2 1503.6 1209.4C1506.1 1212.6 1509.4 1216.0 1513.2 1219.2C1517.1 1222.3 1521.7 1225.5 1526.7 1228.4C1531.7 1231.3 1537.3 1234.1 1543.2 1236.4C1549.1 1238.8 1555.6 1240.9 1562.2 1242.6C1568.8 1244.2 1575.8 1245.5 1582.7 1246.3C1589.7 1247.1 1596.9 1247.4 1603.9 1247.3C1610.9 1247.1 1618.1 1246.5 1624.8 1245.4C1631.6 1244.3 1638.4 1242.7 1644.6 1240.8C1650.8 1238.9 1656.9 1236.6 1662.3 1234.0C1667.8 1231.5 1672.8 1228.6 1677.2 1225.6C1681.6 1222.7 1685.6 1219.5 1688.7 1216.4C1691.9 1213.2 1694.5 1209.9 1696.3 1206.8C1698.1 1203.7 1699.3 1200.6 1699.7 1197.6C1700.1 1194.7 1699.8 1191.8 1698.8 1189.2C1697.8 1186.6 1696.0 1184.1 1693.6 1181.8C1691.2 1179.6 1688.1 1177.5 1684.4 1175.7C1680.8 1173.8 1676.4 1172.2 1671.6 1170.8C1666.8 1169.4 1661.4 1168.1 1655.7 1167.1C1650.0 1166.1 1643.7 1165.3 1637.4 1164.6C1631.0 1164.0 1624.2 1163.6 1617.5 1163.3C1610.8 1163.0 1603.8 1162.9 1596.9 1163.0C1590.1 1163.1 1583.2 1163.4 1576.6 1163.8C1570.0 1164.2 1563.4 1164.9 1557.3 1165.7C1551.2 1166.5 1545.3 1167.5 1540.0 1168.7C1534.6 1169.9 1529.6 1171.3 1525.3 1172.9C1521.0 1174.5 1517.1 1176.3 1513.9 1178.3C1510.8 1180.3 1508.2 1182.5 1506.4 1184.9C1504.6 1187.3 1503.4 1189.9 1503.0 1192.7C1502.5 1195.4 1502.8 1198.4 1503.8 1201.4C1504.8 1204.4 1506.5 1207.5 1508.9 1210.7C1511.2 1213.8 1514.3 1217.0 1517.9 1220.1C1521.5 1223.1 1525.8 1226.2 1530.5 1229.0C1535.3 1231.8 1540.6 1234.5 1546.2 1236.8C1551.8 1239.1 1557.9 1241.1 1564.1 1242.7C1570.4 1244.3 1577.0 1245.6 1583.6 1246.4C1590.2 1247.1 1597.1 1247.4 1603.7 1247.3C1610.4 1247.1 1617.2 1246.5 1623.7 1245.4C1630.2 1244.4 1636.6 1242.8 1642.5 1241.0C1648.5 1239.2 1654.3 1236.9 1659.5 1234.4C1664.7 1231.9 1669.6 1229.1 1673.8 1226.2C1678.1 1223.4 1681.9 1220.2 1684.9 1217.2C1688.0 1214.1 1690.5 1210.9 1692.3 1207.9C1694.1 1204.8 1695.2 1201.8 1695.6 1198.9C1696.0 1196.0 1695.8 1193.2 1694.8 1190.6C1693.9 1188.1 1692.2 1185.6 1689.9 1183.4C1687.6 1181.2 1684.6 1179.2 1681.1 1177.4C1677.6 1175.6 1673.4 1174.0 1668.8 1172.6C1664.2 1171.2 1659.0 1170.0 1653.5 1169.0C1648.0 1167.9 1642.0 1167.1 1635.9 1166.5C1629.8 1165.9 1623.3 1165.4 1616.8 1165.1C1610.4 1164.8 1603.6 1164.7 1597.1 1164.8C1590.5 1164.9 1583.8 1165.1 1577.5 1165.6C1571.1 1166.0 1564.8 1166.6 1559.0 1167.4C1553.1 1168.2 1547.4 1169.1 1542.3 1170.3C1537.1 1171.5 1532.3 1172.8 1528.1 1174.4C1524.0 1175.9 1520.2 1177.7 1517.2 1179.6C1514.2 1181.6 1511.7 1183.8 1509.9 1186.1C1508.2 1188.5 1507.0 1191.0 1506.6 1193.7C1506.2 1196.4 1506.5 1199.3 1507.4 1202.2C1508.3 1205.1 1510.0 1208.3 1512.2 1211.3C1514.5 1214.4 1517.4 1217.5 1520.9 1220.5C1524.4 1223.5 1528.5 1226.6 1533.0 1229.3C1537.6 1232.0 1542.7 1234.7 1548.1 1236.9C1553.5 1239.2 1559.4 1241.2 1565.4 1242.8C1571.4 1244.4 1577.8 1245.6 1584.2 1246.4C1590.5 1247.1 1597.2 1247.4 1603.6 1247.3C1610.1 1247.1 1616.6 1246.5 1622.9 1245.5C1629.2 1244.4 1635.4 1242.9 1641.2 1241.1C1646.9 1239.3 1652.5 1237.0 1657.6 1234.6C1662.6 1232.2 1667.4 1229.4 1671.5 1226.5C1675.6 1223.7 1679.3 1220.6 1682.2 1217.6C1685.2 1214.6 1687.7 1211.4 1689.4 1208.4C1691.2 1205.4 1692.3 1202.4 1692.7 1199.6C1693.1 1196.7 1692.8 1194.0 1691.9 1191.4C1691.0 1188.9 1689.4 1186.5 1687.2 1184.3C1685.0 1182.1 1682.1 1180.1 1678.7 1178.3C1675.2 1176.5 1671.2 1174.9 1666.7 1173.5C1662.3 1172.1 1657.2 1170.9 1651.9 1169.9C1646.6 1168.9 1640.8 1168.1 1634.9 1167.5C1628.9 1166.8 1622.6 1166.4 1616.4 1166.1C1610.1 1165.8 1603.5 1165.7 1597.2 1165.8C1590.8 1165.9 1584.3 1166.1 1578.2 1166.5C1572.0 1166.9 1565.8 1167.5 1560.1 1168.3C1554.4 1169.0 1548.9 1170.0 1543.9 1171.1C1538.9 1172.3 1534.2 1173.6 1530.2 1175.2C1526.1 1176.7 1522.5 1178.4 1519.5 1180.4C1516.6 1182.3 1514.1 1184.4 1512.4 1186.7C1510.7 1189.1 1509.6 1191.6 1509.2 1194.2C1508.8 1196.9 1509.0 1199.8 1509.9 1202.7C1510.8 1205.6 1512.4 1208.6 1514.6 1211.7C1516.8 1214.7 1519.6 1217.8 1523.0 1220.8C1526.4 1223.8 1530.4 1226.8 1534.8 1229.5C1539.2 1232.2 1544.2 1234.8 1549.4 1237.0C1554.7 1239.3 1560.4 1241.3 1566.3 1242.9C1572.1 1244.4 1578.4 1245.6 1584.6 1246.4C1590.8 1247.1 1597.3 1247.4 1603.5 1247.3C1609.8 1247.1 1616.3 1246.5 1622.4 1245.5C1628.5 1244.5 1634.5 1242.9 1640.2 1241.1C1645.8 1239.4 1651.3 1237.1 1656.2 1234.7C1661.2 1232.3 1665.8 1229.5 1669.8 1226.7C1673.9 1223.9 1677.5 1220.8 1680.4 1217.8C1683.3 1214.8 1685.7 1211.7 1687.4 1208.7C1689.1 1205.7 1690.2 1202.7 1690.7 1199.9C1691.1 1197.1 1690.8 1194.4 1689.9 1191.8C1689.0 1189.3 1687.5 1186.9 1685.3 1184.7C1683.1 1182.6 1680.3 1180.6 1677.0 1178.8C1673.6 1177.0 1669.7 1175.4 1665.3 1174.0C1660.9 1172.6 1656.0 1171.5 1650.8 1170.5C1645.6 1169.5 1639.9 1168.6 1634.1 1168.0C1628.3 1167.4 1622.2 1166.9 1616.0 1166.6C1609.9 1166.4 1603.5 1166.3 1597.2 1166.3C1591.0 1166.4 1584.7 1166.6 1578.6 1167.0C1572.6 1167.4 1566.6 1168.0 1561.0 1168.8C1555.4 1169.5 1550.0 1170.5 1545.1 1171.6C1540.2 1172.7 1535.6 1174.1 1531.6 1175.6C1527.6 1177.1 1524.1 1178.8 1521.2 1180.7C1518.3 1182.7 1515.9 1184.8 1514.2 1187.1C1512.5 1189.4 1511.4 1191.9 1511.0 1194.5C1510.6 1197.2 1510.8 1200.0 1511.7 1202.9C1512.6 1205.8 1514.1 1208.8 1516.3 1211.9C1518.4 1214.9 1521.2 1218.0 1524.5 1220.9C1527.8 1223.9 1531.8 1226.9 1536.1 1229.6C1540.4 1232.3 1545.3 1234.9 1550.4 1237.1C1555.6 1239.3 1561.2 1241.3 1566.9 1242.9C1572.7 1244.4 1578.8 1245.7 1584.9 1246.4C1591.0 1247.1 1597.3 1247.4 1603.5 1247.3C1609.7 1247.1 1616.0 1246.5 1621.9 1245.5C1627.9 1244.5 1633.9 1243.0 1639.4 1241.2C1645.0 1239.4 1650.3 1237.1 1655.2 1234.8C1660.1 1232.4 1664.6 1229.6 1668.6 1226.8C1672.5 1224.0 1676.0 1220.9 1678.9 1218.0C1681.8 1215.0 1684.2 1211.9 1685.8 1208.9C1687.5 1205.9 1688.6 1202.9 1689.0 1200.1C1689.4 1197.3 1689.2 1194.6 1688.3 1192.0C1687.4 1189.5 1685.9 1187.1 1683.8 1185.0C1681.7 1182.8 1678.9 1180.8 1675.6 1179.0C1672.3 1177.3 1668.4 1175.7 1664.2 1174.3C1659.9 1172.9 1655.0 1171.7 1649.9 1170.7C1644.8 1169.7 1639.2 1168.9 1633.6 1168.3C1627.9 1167.7 1621.8 1167.2 1615.7 1166.9C1609.7 1166.6 1603.4 1166.5 1597.3 1166.6C1591.2 1166.7 1584.9 1166.9 1579.0 1167.3C1573.0 1167.7 1567.1 1168.3 1561.6 1169.0C1556.1 1169.8 1550.8 1170.7 1546.0 1171.8C1541.2 1173.0 1536.7 1174.3 1532.8 1175.8C1528.8 1177.3 1525.3 1179.0 1522.5 1180.9C1519.6 1182.9 1517.3 1185.0 1515.6 1187.3C1513.9 1189.6 1513.0 1193.5 1512.5 1194.7" fill="none" stroke="#067a06" stroke-width="6.6" stroke-linecap="butt" stroke-linejoin="round"/>
<ellipse cx="1594.0" cy="1205.8" rx="4.5" ry="2.2" fill="#6fb76f"/>
<text x="1237.0" y="1064.5" font-size="63.0" text-anchor="end">0</text>
<text x="1237.0" y="1145.0" font-size="63.0" text-anchor="end"><tspan font-size="71.8" dy="2.6">−</tspan><tspan dy="-2.6">0.2</tspan></text>
<text x="1237.0" y="1225.0" font-size="63.0" text-anchor="end"><tspan font-size="71.8" dy="2.6">−</tspan><tspan dy="-2.6">0.4</tspan></text>
<text x="1237.0" y="1304.0" font-size="63.0" text-anchor="end"><tspan font-size="71.8" dy="2.6">−</tspan><tspan dy="-2.6">0.6</tspan></text>
<text x="1264.0" y="1406.5" font-size="63.0" text-anchor="middle">0</text>
<text x="1605.0" y="1406.5" font-size="63.0" text-anchor="middle">0.5</text>
<text x="1950.0" y="1406.5" font-size="63.0" text-anchor="middle">1</text>
<text x="1275.0" y="1069.5" font-size="63.0" text-anchor="start">(c2)</text>
<text transform="translate(1078 1292) rotate(-90)" font-size="70.5">Im(E<tspan dy="34" font-size="55">out</tspan><tspan dy="-34" dx="2">)</tspan></text>
<rect x="1267.5" y="1434.0" width="686.5" height="321.5" fill="#fff" stroke="#303030" stroke-width="4.6"/>
<path d="M1329.3 1755.5 v-6.8 M1329.3 1434.0 v6.8M1642.0 1755.5 v-6.8 M1642.0 1434.0 v6.8M1267.5 1478.2 h6.8 M1954.0 1478.2 h-6.8M1267.5 1546.5 h6.8 M1954.0 1546.5 h-6.8M1267.5 1616.5 h6.8 M1954.0 1616.5 h-6.8M1267.5 1686.3 h6.8 M1954.0 1686.3 h-6.8" stroke="#303030" stroke-width="4" fill="none"/>
<path d="M1786.5 1478.0C1772.1 1477.7 1729.6 1477.0 1700.0 1476.4C1670.4 1475.8 1641.3 1474.9 1609.0 1474.3C1576.6 1473.8 1530.0 1473.2 1506.0 1473.1C1481.9 1473.0 1476.8 1473.1 1464.8 1473.7C1452.8 1474.3 1444.2 1475.1 1433.9 1476.8C1423.6 1478.5 1412.3 1481.1 1403.0 1484.0C1393.7 1486.9 1385.5 1490.7 1378.3 1494.3C1371.1 1497.9 1365.6 1501.0 1359.7 1505.6C1353.9 1510.3 1347.9 1516.3 1343.2 1522.1C1338.6 1527.9 1334.7 1534.5 1331.9 1540.6C1329.2 1546.8 1327.4 1553.0 1326.8 1559.2C1326.1 1565.4 1326.6 1571.5 1327.8 1577.7C1329.0 1583.9 1331.1 1590.1 1334.0 1596.2C1336.9 1602.4 1340.7 1608.6 1345.3 1614.8C1349.9 1621.0 1355.6 1627.3 1361.8 1633.3C1368.0 1639.3 1374.8 1645.0 1382.4 1650.8C1390.0 1656.7 1398.2 1662.8 1407.1 1668.3C1416.0 1673.8 1425.6 1679.0 1435.9 1683.8C1446.2 1688.6 1457.2 1693.1 1468.9 1697.2C1480.6 1701.3 1492.9 1705.1 1506.0 1708.5C1519.0 1712.0 1533.4 1715.3 1547.2 1717.8C1560.9 1720.3 1574.7 1722.1 1588.4 1723.6C1602.1 1725.0 1616.0 1725.9 1629.6 1726.4C1643.1 1727.0 1657.3 1727.3 1669.5 1727.0C1681.6 1726.7 1691.4 1725.8 1702.4 1724.4C1713.3 1723.0 1723.7 1721.3 1735.3 1718.6C1746.9 1715.9 1759.7 1712.6 1771.8 1708.3C1784.0 1704.1 1797.4 1698.7 1808.4 1693.0C1819.4 1687.3 1830.0 1680.9 1837.7 1674.3C1845.3 1667.8 1850.4 1660.3 1854.1 1653.5C1857.8 1646.7 1859.6 1639.8 1859.6 1633.4C1859.6 1627.0 1857.5 1620.9 1854.1 1615.1C1850.8 1609.3 1845.9 1603.8 1839.5 1598.7C1833.1 1593.5 1825.2 1588.3 1815.7 1584.0C1806.3 1579.8 1795.0 1576.0 1782.8 1573.1C1770.6 1570.1 1756.6 1568.1 1742.6 1566.5C1728.6 1564.8 1713.3 1563.7 1698.7 1563.2C1684.1 1562.6 1669.5 1562.8 1654.9 1563.2C1640.2 1563.6 1625.6 1564.5 1611.0 1565.8C1596.4 1567.0 1581.7 1568.5 1567.1 1570.5C1552.5 1572.5 1536.6 1575.0 1523.2 1577.8C1509.8 1580.7 1497.0 1583.9 1486.7 1587.7C1476.3 1591.5 1467.5 1596.2 1461.1 1600.5C1454.7 1604.8 1450.8 1609.0 1448.3 1613.3C1445.7 1617.6 1445.1 1621.5 1445.7 1626.1C1446.3 1630.7 1448.5 1635.8 1451.9 1640.7C1455.4 1645.6 1460.2 1650.6 1466.6 1655.3C1473.0 1660.1 1480.9 1665.0 1490.3 1669.2C1499.8 1673.5 1511.7 1677.6 1523.2 1680.9C1534.8 1684.2 1547.0 1687.0 1559.8 1689.0C1572.6 1691.0 1586.6 1692.5 1600.0 1693.0C1613.4 1693.5 1628.0 1693.0 1640.2 1691.9C1652.4 1690.8 1663.4 1688.8 1673.1 1686.4C1682.9 1684.0 1691.7 1680.6 1698.7 1677.3C1705.7 1673.9 1711.4 1670.3 1715.2 1666.3C1719.0 1662.3 1721.1 1657.8 1721.4 1653.5C1721.7 1649.2 1720.2 1644.7 1717.0 1640.7C1713.8 1636.7 1708.5 1633.1 1702.4 1629.7C1696.3 1626.4 1689.0 1623.2 1680.4 1620.6C1671.9 1618.0 1661.6 1616.0 1651.2 1614.4C1640.8 1612.7 1629.3 1611.5 1618.3 1610.7C1607.3 1609.9 1596.4 1609.5 1585.4 1609.6C1574.4 1609.8 1562.8 1610.2 1552.5 1611.5C1542.1 1612.7 1531.5 1614.6 1523.2 1616.9C1515.0 1619.3 1508.0 1622.3 1503.1 1625.4C1498.3 1628.4 1495.2 1631.7 1494.0 1635.2C1492.8 1638.7 1493.7 1642.5 1495.8 1646.2C1497.9 1649.8 1501.6 1653.8 1506.8 1657.2C1512.0 1660.5 1518.7 1663.4 1526.9 1666.3C1535.1 1669.2 1545.8 1672.3 1556.1 1674.3C1566.5 1676.4 1578.1 1677.9 1589.0 1678.4C1600.0 1678.8 1612.2 1678.4 1621.9 1677.3C1631.7 1676.2 1640.5 1673.9 1647.5 1671.8C1654.5 1669.6 1660.0 1667.2 1664.0 1664.5C1668.0 1661.7 1670.7 1658.4 1671.3 1655.3C1671.9 1652.3 1670.4 1649.2 1667.6 1646.2C1664.9 1643.1 1660.6 1639.7 1654.9 1637.0C1649.1 1634.4 1640.8 1632.3 1632.9 1630.5C1625.0 1628.6 1616.5 1626.9 1607.3 1626.1C1598.2 1625.2 1587.2 1625.0 1578.1 1625.4C1568.9 1625.7 1559.8 1626.6 1552.5 1627.9C1545.2 1629.2 1539.0 1631.1 1534.2 1633.4C1529.4 1635.6 1525.2 1638.5 1524.0 1641.4C1522.7 1644.4 1524.6 1648.0 1526.9 1650.9C1529.2 1653.9 1532.4 1656.5 1537.9 1659.0C1543.3 1661.4 1551.9 1663.9 1559.8 1665.6C1567.7 1667.2 1576.9 1668.4 1585.4 1668.9C1593.9 1669.3 1603.7 1669.0 1611.0 1668.1C1618.3 1667.2 1624.4 1665.2 1629.3 1663.4C1634.1 1661.5 1638.1 1659.4 1640.2 1657.2C1642.4 1654.9 1641.7 1651.1 1642.1 1649.8" fill="none" stroke="#067a06" stroke-width="6.6" stroke-linecap="butt" stroke-linejoin="round"/>
<path d="M1642.1 1650.6L1641.5 1648.7L1640.3 1646.8L1638.5 1645.0L1636.2 1643.3L1633.3 1641.7L1629.9 1640.1L1626.1 1638.7L1621.9 1637.5L1617.3 1636.4L1612.4 1635.5L1607.3 1634.7L1601.9 1634.2L1596.5 1633.8L1590.9 1633.6L1585.4 1633.6L1579.9 1633.7L1574.5 1634.1L1569.3 1634.6L1564.3 1635.3L1559.6 1636.2L1555.2 1637.2L1551.2 1638.3L1547.6 1639.6L1544.5 1641.0L1541.8 1642.5L1539.6 1644.0L1538.0 1645.6L1536.9 1647.3L1536.3 1648.9L1536.3 1650.6L1536.8 1652.2L1537.8 1653.8L1539.3 1655.4L1541.4 1656.9L1543.8 1658.3L1546.8 1659.6L1550.1 1660.8L1553.7 1661.9L1557.7 1662.9L1562.0 1663.7L1566.4 1664.3L1571.0 1664.8L1575.8 1665.1L1580.6 1665.3L1585.4 1665.3L1590.1 1665.2L1594.8 1664.9L1599.3 1664.4L1603.6 1663.8L1607.7 1663.1L1611.5 1662.2L1615.0 1661.2L1618.1 1660.1L1620.8 1658.9L1623.2 1657.6L1625.0 1656.3L1626.5 1654.9L1627.4 1653.5L1627.9 1652.0L1628.0 1650.6L1627.5 1649.1L1626.6 1647.7L1625.3 1646.4L1623.6 1645.1L1621.4 1643.9L1618.9 1642.7L1616.0 1641.7L1612.8 1640.7L1609.4 1639.9L1605.7 1639.2L1601.8 1638.7L1597.8 1638.2L1593.7 1637.9L1589.6 1637.8L1585.4 1637.8L1581.3 1637.9L1577.2 1638.2L1573.3 1638.6L1569.6 1639.1L1566.0 1639.8L1562.7 1640.5L1559.7 1641.4L1557.0 1642.3L1554.7 1643.4L1552.6 1644.5L1551.0 1645.6L1549.8 1646.8L1548.9 1648.1L1548.5 1649.3L1548.5 1650.6L1548.8 1651.8L1549.6 1653.0L1550.8 1654.2L1552.3 1655.3L1554.2 1656.4L1556.4 1657.4L1558.9 1658.3L1561.6 1659.1L1564.6 1659.8L1567.8 1660.4L1571.1 1660.9L1574.6 1661.3L1578.2 1661.5L1581.8 1661.7L1585.4 1661.7L1589.0 1661.6L1592.5 1661.3L1595.9 1661.0L1599.1 1660.5L1602.2 1660.0L1605.0 1659.3L1607.6 1658.5L1610.0 1657.7L1612.0 1656.8L1613.8 1655.9L1615.2 1654.9L1616.3 1653.8L1617.0 1652.7L1617.4 1651.7L1617.4 1650.6L1617.1 1649.5L1616.4 1648.5L1615.4 1647.4L1614.1 1646.5L1612.4 1645.5L1610.5 1644.7L1608.4 1643.9L1606.0 1643.2L1603.4 1642.6L1600.6 1642.1L1597.7 1641.6L1594.7 1641.3L1591.6 1641.1L1588.5 1641.0L1585.4 1641.0L1582.3 1641.1L1579.3 1641.3L1576.3 1641.6L1573.5 1642.0L1570.8 1642.4L1568.4 1643.0L1566.1 1643.7L1564.1 1644.4L1562.3 1645.2L1560.8 1646.0L1559.6 1646.9L1558.6 1647.8L1558.0 1648.7L1557.7 1649.6L1557.6 1650.6L1557.9 1651.5L1558.5 1652.4L1559.4 1653.3L1560.5 1654.1L1561.9 1654.9L1563.6 1655.7L1565.4 1656.4L1567.5 1657.0L1569.8 1657.5L1572.2 1658.0L1574.7 1658.3L1577.3 1658.6L1580.0 1658.8L1582.7 1658.9L1585.4 1658.9L1588.1 1658.8L1590.7 1658.6L1593.3 1658.4L1595.7 1658.0L1598.0 1657.6L1600.1 1657.1L1602.1 1656.6L1603.9 1655.9L1605.4 1655.3L1606.7 1654.5L1607.8 1653.8L1608.6 1653.0L1609.1 1652.2L1609.4 1651.4L1609.4 1650.6L1609.2 1649.8L1608.7 1649.0L1607.9 1648.2L1606.9 1647.5L1605.7 1646.8L1604.3 1646.1L1602.7 1645.6L1600.9 1645.0L1598.9 1644.6L1596.9 1644.2L1594.7 1643.9L1592.4 1643.6L1590.1 1643.4L1587.7 1643.4L1585.4 1643.4L1583.1 1643.4L1580.8 1643.6L1578.6 1643.8L1576.5 1644.1L1574.5 1644.5L1572.6 1644.9L1570.9 1645.4L1569.4 1645.9L1568.0 1646.5L1566.9 1647.1L1566.0 1647.8L1565.3 1648.5L1564.8 1649.2L1564.6 1649.9L1564.5 1650.6L1564.8 1651.3L1565.2 1652.0L1565.8 1652.6L1566.7 1653.3L1567.8 1653.9L1569.0 1654.4L1570.4 1654.9L1572.0 1655.4L1573.6 1655.8L1575.4 1656.1L1577.3 1656.4L1579.3 1656.6L1581.3 1656.8L1583.3 1656.8L1585.4 1656.8L1587.4 1656.8L1589.4 1656.6L1591.3 1656.4L1593.1 1656.2L1594.9 1655.9L1596.5 1655.5L1597.9 1655.1L1599.3 1654.6L1600.4 1654.1L1601.4 1653.6L1602.2 1653.0L1602.8 1652.4L1603.2 1651.8L1603.4 1651.2L1603.5 1650.6L1603.3 1650.0L1602.9 1649.4L1602.3 1648.8L1601.6 1648.3L1600.7 1647.7L1599.6 1647.2L1598.4 1646.8L1597.0 1646.4L1595.6 1646.1L1594.0 1645.8L1592.4 1645.5L1590.7 1645.3L1588.9 1645.2L1587.2 1645.2L1585.4 1645.1L1583.6 1645.2L1581.9 1645.3L1580.3 1645.5L1578.7 1645.7L1577.2 1646.0L1575.8 1646.3L1574.5 1646.7L1573.3 1647.1L1572.3 1647.5L1571.5 1648.0L1570.8 1648.5L1570.3 1649.0L1569.9 1649.5L1569.7 1650.0L1569.7 1650.6L1569.9 1651.1L1570.2 1651.6L1570.7 1652.1L1571.3 1652.6L1572.1 1653.0L1573.1 1653.5L1574.1 1653.8L1575.3 1654.2L1576.6 1654.5L1577.9 1654.7L1579.3 1655.0L1580.8 1655.1L1582.3 1655.2L1583.9 1655.3L1585.4 1655.3L1586.9 1655.2L1588.4 1655.1L1589.8 1655.0L1591.2 1654.8L1592.5 1654.6L1593.7 1654.3L1594.8 1654.0L1595.8 1653.6L1596.7 1653.2L1597.4 1652.8L1598.0 1652.4L1598.5 1651.9L1598.8 1651.5L1599.0 1651.0L1599.0 1650.6L1598.8 1650.1L1598.5 1649.7L1598.1 1649.2L1597.6 1648.8L1596.9 1648.4L1596.1 1648.1L1595.1 1647.7L1594.1 1647.4L1593.0 1647.2L1591.9 1647.0L1590.6 1646.8L1589.3 1646.6L1588.0 1646.5L1586.7 1646.5L1585.4 1646.5L1584.1 1646.5L1582.8 1646.6L1581.5 1646.8L1580.3 1646.9L1579.2 1647.1L1578.2 1647.4L1577.2 1647.6L1576.3 1647.9L1575.6 1648.3L1574.9 1648.6L1574.4 1649.0L1574.0 1649.4L1573.8 1649.8L1573.6 1650.2L1573.6 1650.6L1573.7 1651.0L1574.0 1651.4L1574.3 1651.7L1574.8 1652.1L1575.4 1652.4L1576.1 1652.7L1576.9 1653.0L1577.8 1653.3L1578.8 1653.5L1579.8 1653.7L1580.8 1653.9L1582.0 1654.0L1583.1 1654.1L1584.2 1654.1L1585.4 1654.1L1586.5 1654.1L1587.6 1654.0L1588.7 1653.9L1589.8 1653.7L1590.7 1653.6L1591.6 1653.4L1592.5 1653.1L1593.2 1652.9L1593.9 1652.6L1594.4 1652.3L1594.9 1651.9L1595.2 1651.6L1595.5 1651.3L1595.6 1650.9L1595.6 1650.6L1595.5 1650.2L1595.3 1649.9L1595.0 1649.6L1594.5 1649.3L1594.0 1649.0L1593.4 1648.7L1592.7 1648.4L1592.0 1648.2L1591.1 1648.0L1590.3 1647.9L1589.3 1647.7L1588.4 1647.6L1587.4 1647.5L1586.4 1647.5L1585.4 1647.5L1584.4 1647.5L1583.4 1647.6L1582.5 1647.7L1581.6 1647.8L1580.7 1648.0L1580.0 1648.2L1579.2 1648.4L1578.6 1648.6L1578.0 1648.9L1577.5 1649.1L1577.1 1649.4L1576.9 1649.7L1576.6 1650.0L1576.5 1650.3L1576.5 1650.6L1576.6 1650.9L1576.8 1651.2L1577.1 1651.4L1577.5 1651.7L1577.9 1652.0L1578.4 1652.2L1579.0 1652.4L1579.7 1652.6L1580.4 1652.8L1581.2 1652.9L1582.0 1653.1L1582.8 1653.1L1583.7 1653.2L1584.5 1653.2L1585.4 1653.2L1586.2 1653.2L1587.1 1653.2L1587.9 1653.1L1588.7 1653.0L1589.4 1652.8L1590.1 1652.7L1590.7 1652.5L1591.3 1652.3L1591.8 1652.1L1592.2 1651.8L1592.5 1651.6L1592.8 1651.4L1593.0 1651.1L1593.0 1650.8L1593.1 1650.6L1593.0 1650.3L1592.8 1650.1L1592.6 1649.8L1592.3 1649.6L1591.9 1649.4L1591.4 1649.2L1590.9 1649.0L1590.3 1648.8L1589.7 1648.7L1589.0 1648.5L1588.3 1648.4L1587.6 1648.4L1586.9 1648.3L1586.1 1648.3L1585.4 1648.3L1584.6 1648.3L1583.9 1648.3L1583.2 1648.4L1582.5 1648.5L1581.9 1648.6L1581.3 1648.8L1580.8 1648.9L1580.3 1649.1L1579.9 1649.3L1579.5 1649.5L1579.2 1649.7L1579.0 1649.9L1578.8 1650.1L1578.7 1650.4L1578.7 1650.6L1578.8 1650.8L1578.9 1651.0L1579.2 1651.2L1579.4 1651.4L1579.8 1651.6L1580.2 1651.8L1580.6 1652.0L1581.1 1652.1L1581.6 1652.2L1582.2 1652.3L1582.8 1652.4L1583.4 1652.5L1584.1 1652.5L1584.7 1652.6L1585.4 1652.6L1586.0 1652.6L1586.7 1652.5L1587.3 1652.4L1587.9 1652.4L1588.4 1652.3L1588.9 1652.1L1589.4 1652.0L1589.8 1651.9L1590.2 1651.7L1590.5 1651.5L1590.8 1651.3L1590.9 1651.2L1591.1 1651.0L1591.1 1650.8L1591.1 1650.6L1591.1 1650.4L1591.0 1650.2L1590.8 1650.0L1590.6 1649.8L1590.3 1649.7L1589.9 1649.5L1589.5 1649.4L1589.1 1649.2L1588.6 1649.1L1588.1 1649.0L1587.6 1649.0L1587.1 1648.9L1586.5 1648.9L1585.9 1648.8L1585.4 1648.8L1584.8 1648.9L1584.3 1648.9L1583.8 1649.0L1583.2 1649.0L1582.8 1649.1L1582.3 1649.2L1581.9 1649.3L1581.5 1649.5L1581.2 1649.6L1581.0 1649.8L1580.7 1649.9L1580.6 1650.1L1580.5 1650.2L1580.4 1650.4L1580.4 1650.6L1580.4 1650.7L1580.5 1650.9L1580.7 1651.1L1580.9 1651.2L1581.2 1651.4L1581.5 1651.5L1581.8 1651.6L1582.2 1651.7L1582.6 1651.8L1583.0 1651.9L1583.5 1652.0L1583.9 1652.0L1584.4 1652.1L1584.9 1652.1L1585.4 1652.1L1585.9 1652.1L1586.3 1652.0L1586.8 1652.0L1587.2 1651.9L1587.7 1651.8L1588.0 1651.8L1588.4 1651.7L1588.7 1651.5L1589.0 1651.4L1589.2 1651.3L1589.4 1651.2L1589.6 1651.0L1589.7 1650.9L1589.7 1650.7L1589.7 1650.6L1589.7 1650.4L1589.6 1650.3L1589.4 1650.2L1589.3 1650.0L1589.0 1649.9L1588.8 1649.8L1588.5 1649.7L1588.2 1649.6L1587.8 1649.5L1587.5 1649.4L1587.1 1649.4L1586.7 1649.3L1586.2 1649.3L1585.8 1649.3L1585.4 1649.3L1585.0 1649.3L1584.6 1649.3L1584.2 1649.4L1583.8 1649.4L1583.4 1649.5L1583.1 1649.6L1582.8 1649.6L1582.5 1649.7L1582.3 1649.8L1582.1 1650.0L1581.9 1650.1L1581.8 1650.2L1581.7 1650.3L1581.6 1650.4L1581.6 1650.6L1581.7 1650.7L1581.7 1650.8L1581.9 1650.9L1582.0 1651.1L1582.2 1651.2L1582.4 1651.3L1582.7 1651.4L1583.0 1651.4L1583.3 1651.5L1583.6 1651.6L1583.9 1651.6L1584.3 1651.7L1584.7 1651.7L1585.0 1651.7L1585.4 1651.7L1585.7 1651.7L1586.1 1651.7L1586.5 1651.6L1586.8 1651.6L1587.1 1651.5L1587.4 1651.5L1587.6 1651.4L1587.9 1651.3L1588.1 1651.2L1588.3 1651.1L1588.4 1651.0L1588.5 1650.9L1588.6 1650.8L1588.6 1650.7L1588.6 1650.6L1588.6 1650.5L1588.5 1650.4L1588.4 1650.3L1588.3 1650.2L1588.1 1650.1L1587.9 1650.0L1587.7 1649.9L1587.5 1649.8L1587.2 1649.8L1586.9 1649.7L1586.6 1649.7L1586.3 1649.6L1586.0 1649.6L1585.7 1649.6L1585.4 1649.6L1585.1 1649.6L1584.8 1649.6L1584.5 1649.7L1584.2 1649.7L1583.9 1649.8L1583.7 1649.8L1583.4 1649.9L1583.2 1649.9L1583.0 1650.0L1582.9 1650.1L1582.8 1650.2L1582.7 1650.3L1582.6 1650.4L1582.6 1650.5L1582.6 1650.6L1582.6 1650.7L1582.7 1650.8L1582.7 1650.9L1582.9 1650.9L1583.0 1651.0L1583.2 1651.1L1583.4 1651.2L1583.6 1651.2L1583.8 1651.3L1584.0 1651.3L1584.3 1651.4L1584.6 1651.4L1584.8 1651.4L1585.1 1651.4L1585.4 1651.4L1585.7 1651.4L1585.9 1651.4L1586.2 1651.4L1586.4 1651.3L1586.7 1651.3L1586.9 1651.2L1587.1 1651.2L1587.3 1651.1L1587.4 1651.1L1587.6 1651.0L1587.7 1650.9L1587.7 1650.8L1587.8 1650.7L1587.8 1650.7L1587.8 1650.6L1587.8 1650.5L1587.8 1650.4L1587.7 1650.3L1587.6 1650.3L1587.5 1650.2L1587.3 1650.1L1587.1 1650.1L1587.0 1650.0L1586.8 1650.0L1586.6 1649.9L1586.3 1649.9L1586.1 1649.9L1585.9 1649.9L1585.6 1649.8L1585.4 1649.8L1585.1 1649.8L1584.9 1649.9L1584.7 1649.9L1584.5 1649.9L1584.3 1650.0L1584.1 1650.0L1583.9 1650.0L1583.8 1650.1L1583.6 1650.2L1583.5 1650.2L1583.4 1650.3L1583.3 1650.4L1583.3 1650.4L1583.3 1650.5L1583.3 1650.6L1583.3 1650.6L1583.3 1650.7L1583.4 1650.8L1583.5 1650.8L1583.6 1650.9L1583.7 1651.0L1583.9 1651.0L1584.0 1651.1L1584.2 1651.1L1584.4 1651.1L1584.6 1651.2L1584.8 1651.2L1585.0 1651.2L1585.2 1651.2L1585.4 1651.2L1585.6 1651.2L1585.8 1651.2L1586.0 1651.2L1586.2 1651.1L1586.3 1651.1L1586.5 1651.1L1586.7 1651.0L1586.8 1651.0L1586.9 1650.9L1587.0 1650.9L1587.1 1650.8L1587.2 1650.8L1587.2 1650.7L1587.2 1650.6L1587.2 1650.6" fill="none" stroke="#067a06" stroke-width="3.4"/>
<ellipse cx="1586.5" cy="1653.5" rx="35.8" ry="16.1" fill="#067a06"/>
<text x="1240.0" y="1501.0" font-size="63.0" text-anchor="end">0</text>
<text x="1240.0" y="1569.5" font-size="63.0" text-anchor="end"><tspan font-size="71.8" dy="2.6">−</tspan><tspan dy="-2.6">0.2</tspan></text>
<text x="1240.0" y="1639.5" font-size="63.0" text-anchor="end"><tspan font-size="71.8" dy="2.6">−</tspan><tspan dy="-2.6">0.4</tspan></text>
<text x="1240.0" y="1709.0" font-size="63.0" text-anchor="end"><tspan font-size="71.8" dy="2.6">−</tspan><tspan dy="-2.6">0.6</tspan></text>
<text x="1240.0" y="1779.0" font-size="63.0" text-anchor="end"><tspan font-size="71.8" dy="2.6">−</tspan><tspan dy="-2.6">0.8</tspan></text>
<text x="1328.5" y="1838.5" font-size="63.0" text-anchor="middle">0</text>
<text x="1640.0" y="1838.5" font-size="63.0" text-anchor="middle">0.5</text>
<text x="1952.0" y="1838.5" font-size="63.0" text-anchor="middle">1</text>
<text x="1277.0" y="1494.5" font-size="63.0" text-anchor="start">(c3)</text>
<text x="1490" y="1904" font-size="70.5">Re(E<tspan dy="33.5" font-size="55">out</tspan><tspan dy="-33.5" dx="2">)</tspan></text>
</svg>
</body></html>
